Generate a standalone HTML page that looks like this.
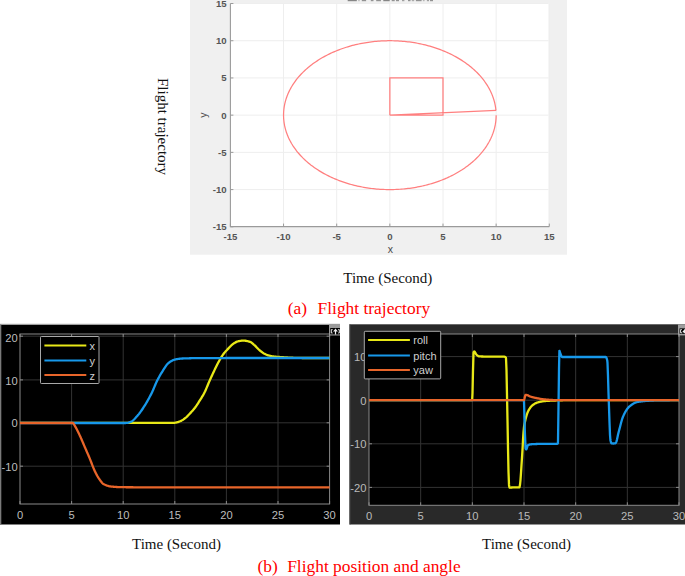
<!DOCTYPE html>
<html><head><meta charset="utf-8"><style>
html,body{margin:0;padding:0;background:#fff;width:685px;height:576px;overflow:hidden}
svg{display:block}
.sa{font-family:"Liberation Sans",sans-serif}
.se{font-family:"Liberation Serif",serif}
</style></head><body>
<svg width="685" height="576" viewBox="0 0 685 576">
<rect width="685" height="576" fill="#fff"/>
<rect x="190" y="0" width="377" height="254.7" fill="#f0f0f0"/>
<rect x="230.4" y="3.6" width="318.1" height="223.0" fill="#ffffff"/>
<line x1="283.55" y1="3.6" x2="283.55" y2="226.6" stroke="#eeeeee" stroke-width="1"/>
<line x1="336.70" y1="3.6" x2="336.70" y2="226.6" stroke="#eeeeee" stroke-width="1"/>
<line x1="389.85" y1="3.6" x2="389.85" y2="226.6" stroke="#eeeeee" stroke-width="1"/>
<line x1="443.00" y1="3.6" x2="443.00" y2="226.6" stroke="#eeeeee" stroke-width="1"/>
<line x1="496.15" y1="3.6" x2="496.15" y2="226.6" stroke="#eeeeee" stroke-width="1"/>
<line x1="549.30" y1="3.6" x2="549.30" y2="226.6" stroke="#eeeeee" stroke-width="1"/>
<line x1="230.4" y1="189.58" x2="548.5" y2="189.58" stroke="#eeeeee" stroke-width="1"/>
<line x1="230.4" y1="152.37" x2="548.5" y2="152.37" stroke="#eeeeee" stroke-width="1"/>
<line x1="230.4" y1="115.15" x2="548.5" y2="115.15" stroke="#eeeeee" stroke-width="1"/>
<line x1="230.4" y1="77.94" x2="548.5" y2="77.94" stroke="#eeeeee" stroke-width="1"/>
<line x1="230.4" y1="40.72" x2="548.5" y2="40.72" stroke="#eeeeee" stroke-width="1"/>
<line x1="230.4" y1="3.51" x2="548.5" y2="3.51" stroke="#eeeeee" stroke-width="1"/>
<polyline points="495.93,110.31 495.80,109.16 495.66,108.01 495.49,106.85 495.29,105.71 495.07,104.56 494.82,103.42 494.55,102.27 494.25,101.14 493.93,100.00 493.58,98.87 493.20,97.74 492.80,96.62 492.38,95.50 491.93,94.39 491.46,93.28 490.96,92.18 490.44,91.08 489.89,89.99 489.32,88.90 488.73,87.82 488.11,86.75 487.46,85.68 486.80,84.62 486.11,83.57 485.40,82.53 484.66,81.49 483.90,80.47 483.12,79.45 482.32,78.43 481.49,77.43 480.64,76.44 479.77,75.46 478.88,74.48 477.97,73.52 477.03,72.56 476.08,71.62 475.10,70.69 474.10,69.76 473.08,68.85 472.05,67.95 470.99,67.06 469.91,66.19 468.81,65.32 467.70,64.47 466.56,63.63 465.41,62.80 464.24,61.98 463.05,61.18 461.84,60.39 460.62,59.61 459.38,58.85 458.12,58.10 456.84,57.36 455.55,56.64 454.25,55.93 452.92,55.24 451.59,54.56 450.23,53.89 448.87,53.24 447.48,52.61 446.09,51.99 444.68,51.39 443.26,50.80 441.82,50.22 440.37,49.66 438.91,49.12 437.44,48.60 435.96,48.09 434.46,47.59 432.96,47.12 431.44,46.65 429.92,46.21 428.38,45.78 426.84,45.37 425.28,44.98 423.72,44.60 422.15,44.24 420.57,43.90 418.99,43.57 417.40,43.26 415.80,42.97 414.19,42.70 412.58,42.44 410.96,42.20 409.34,41.98 407.71,41.78 406.08,41.59 404.45,41.43 402.81,41.28 401.17,41.14 399.52,41.03 397.88,40.93 396.23,40.85 394.58,40.79 392.93,40.75 391.27,40.73 389.62,40.72 387.97,40.73 386.32,40.76 384.67,40.81 383.02,40.87 381.37,40.96 379.72,41.06 378.08,41.18 376.44,41.31 374.80,41.47 373.17,41.64 371.54,41.83 369.91,42.04 368.29,42.27 366.67,42.51 365.06,42.77 363.46,43.05 361.86,43.35 360.27,43.66 358.69,43.99 357.11,44.34 355.54,44.70 353.99,45.08 352.43,45.48 350.89,45.90 349.36,46.33 347.84,46.78 346.32,47.25 344.82,47.73 343.33,48.23 341.85,48.74 340.38,49.27 338.92,49.82 337.48,50.38 336.05,50.96 334.63,51.55 333.22,52.16 331.83,52.78 330.46,53.42 329.09,54.08 327.74,54.74 326.41,55.43 325.09,56.13 323.79,56.84 322.50,57.56 321.23,58.30 319.98,59.06 318.74,59.82 317.52,60.61 316.32,61.40 315.14,62.21 313.97,63.03 312.82,63.86 311.69,64.70 310.58,65.56 309.49,66.43 308.42,67.31 307.37,68.20 306.33,69.10 305.32,70.02 304.33,70.94 303.36,71.88 302.41,72.83 301.48,73.78 300.57,74.75 299.69,75.73 298.82,76.71 297.98,77.71 297.16,78.71 296.36,79.73 295.59,80.75 294.83,81.78 294.10,82.82 293.40,83.86 292.71,84.92 292.06,85.98 291.42,87.05 290.81,88.12 290.22,89.20 289.66,90.29 289.12,91.38 288.60,92.48 288.11,93.59 287.64,94.70 287.20,95.81 286.78,96.93 286.39,98.05 286.02,99.18 285.68,100.32 285.37,101.45 285.07,102.59 284.81,103.73 284.57,104.88 284.35,106.02 284.16,107.17 284.00,108.32 283.86,109.48 283.75,110.63 283.66,111.79 283.60,112.94 283.56,114.10 283.55,115.26 283.57,116.41 283.61,117.57 283.67,118.73 283.77,119.88 283.88,121.04 284.03,122.19 284.20,123.34 284.39,124.49 284.61,125.63 284.86,126.78 285.13,127.92 285.42,129.06 285.74,130.19 286.09,131.33 286.46,132.45 286.86,133.58 287.28,134.69 287.73,135.81 288.20,136.92 288.69,138.02 289.21,139.12 289.76,140.21 290.33,141.30 290.92,142.38 291.53,143.45 292.18,144.52 292.84,145.58 293.53,146.63 294.24,147.68 294.97,148.71 295.73,149.74 296.51,150.76 297.31,151.77 298.13,152.78 298.98,153.77 299.85,154.75 300.74,155.73 301.65,156.69 302.58,157.65 303.54,158.59 304.51,159.53 305.51,160.45 306.52,161.36 307.56,162.26 308.61,163.15 309.69,164.03 310.78,164.90 311.90,165.75 313.03,166.60 314.18,167.43 315.35,168.24 316.54,169.05 317.75,169.84 318.97,170.62 320.21,171.38 321.47,172.13 322.74,172.87 324.03,173.59 325.33,174.30 326.65,175.00 327.99,175.68 329.34,176.35 330.71,177.00 332.09,177.63 333.48,178.25 334.89,178.86 336.31,179.45 337.75,180.03 339.19,180.58 340.65,181.13 342.12,181.66 343.60,182.17 345.10,182.66 346.60,183.14 348.12,183.60 349.64,184.05 351.18,184.48 352.72,184.89 354.27,185.29 355.83,185.67 357.40,186.03 358.98,186.37 360.57,186.70 362.16,187.01 363.76,187.30 365.36,187.58 366.97,187.84 368.59,188.08 370.21,188.30 371.84,188.50 373.47,188.69 375.10,188.86 376.74,189.01 378.38,189.15 380.03,189.26 381.67,189.36 383.32,189.44 384.97,189.50 386.62,189.55 388.27,189.57 389.93,189.58 391.58,189.57 393.23,189.54 394.88,189.50 396.53,189.43 398.18,189.35 399.83,189.25 401.47,189.13 403.11,189.00 404.75,188.85 406.38,188.67 408.01,188.49 409.64,188.28 411.26,188.05 412.88,187.81 414.49,187.55 416.09,187.28 417.69,186.98 419.28,186.67 420.87,186.34 422.44,186.00 424.01,185.63 425.57,185.25 427.12,184.85 428.67,184.44 430.20,184.01 431.72,183.56 433.24,183.10 434.74,182.62 436.23,182.12 437.71,181.61 439.18,181.08 440.64,180.53 442.09,179.97 443.52,179.40 444.94,178.80 446.35,178.20 447.74,177.57 449.12,176.94 450.48,176.28 451.83,175.62 453.17,174.94 454.49,174.24 455.79,173.53 457.08,172.80 458.35,172.06 459.61,171.31 460.84,170.55 462.07,169.77 463.27,168.97 464.46,168.17 465.62,167.35 466.77,166.52 467.90,165.68 469.02,164.82 470.11,163.95 471.18,163.07 472.24,162.18 473.27,161.28 474.29,160.37 475.28,159.44 476.25,158.51 477.21,157.56 478.14,156.60 479.05,155.64 479.93,154.66 480.80,153.68 481.64,152.68 482.47,151.68 483.27,150.67 484.04,149.65 484.80,148.62 485.53,147.58 486.24,146.53 486.92,145.48 487.58,144.42 488.22,143.35 488.84,142.28 489.43,141.20 489.99,140.11 490.54,139.02 491.05,137.92 491.55,136.82 492.02,135.71 492.46,134.59 492.88,133.47 493.27,132.35 493.64,131.22 493.99,130.09 494.31,128.95 494.60,127.82 494.87,126.67 495.11,125.53 495.33,124.38 495.52,123.23 495.69,122.08 495.83,120.93 495.94,119.78 496.03,118.62 496.10,117.46 496.14,116.31 496.15,115.15" fill="none" stroke="#ff7f7f" stroke-width="1.25"/>
<polyline points="389.85,115.15 389.85,77.94 443.00,77.94 443.00,115.15 389.85,115.15 496.15,110.31" fill="none" stroke="#ff7f7f" stroke-width="1.25"/>
<path d="M230.4,3.6 V226.6 H549.30" fill="none" stroke="#9a9a9a" stroke-width="1.1"/>
<line x1="230.40" y1="226.6" x2="230.40" y2="223.6" stroke="#9a9a9a" stroke-width="1"/>
<line x1="230.4" y1="226.80" x2="233.4" y2="226.80" stroke="#9a9a9a" stroke-width="1"/>
<line x1="283.55" y1="226.6" x2="283.55" y2="223.6" stroke="#9a9a9a" stroke-width="1"/>
<line x1="230.4" y1="189.58" x2="233.4" y2="189.58" stroke="#9a9a9a" stroke-width="1"/>
<line x1="336.70" y1="226.6" x2="336.70" y2="223.6" stroke="#9a9a9a" stroke-width="1"/>
<line x1="230.4" y1="152.37" x2="233.4" y2="152.37" stroke="#9a9a9a" stroke-width="1"/>
<line x1="389.85" y1="226.6" x2="389.85" y2="223.6" stroke="#9a9a9a" stroke-width="1"/>
<line x1="230.4" y1="115.15" x2="233.4" y2="115.15" stroke="#9a9a9a" stroke-width="1"/>
<line x1="443.00" y1="226.6" x2="443.00" y2="223.6" stroke="#9a9a9a" stroke-width="1"/>
<line x1="230.4" y1="77.94" x2="233.4" y2="77.94" stroke="#9a9a9a" stroke-width="1"/>
<line x1="496.15" y1="226.6" x2="496.15" y2="223.6" stroke="#9a9a9a" stroke-width="1"/>
<line x1="230.4" y1="40.72" x2="233.4" y2="40.72" stroke="#9a9a9a" stroke-width="1"/>
<line x1="549.30" y1="226.6" x2="549.30" y2="223.6" stroke="#9a9a9a" stroke-width="1"/>
<line x1="230.4" y1="3.51" x2="233.4" y2="3.51" stroke="#9a9a9a" stroke-width="1"/>
<text x="230.40" y="239.6" text-anchor="middle" class="sa" font-size="9.6" font-weight="bold" fill="#555555">-15</text>
<text x="226.6" y="230.30" text-anchor="end" class="sa" font-size="9.6" font-weight="bold" fill="#555555">-15</text>
<text x="283.55" y="239.6" text-anchor="middle" class="sa" font-size="9.6" font-weight="bold" fill="#555555">-10</text>
<text x="226.6" y="193.08" text-anchor="end" class="sa" font-size="9.6" font-weight="bold" fill="#555555">-10</text>
<text x="336.70" y="239.6" text-anchor="middle" class="sa" font-size="9.6" font-weight="bold" fill="#555555">-5</text>
<text x="226.6" y="155.87" text-anchor="end" class="sa" font-size="9.6" font-weight="bold" fill="#555555">-5</text>
<text x="389.85" y="239.6" text-anchor="middle" class="sa" font-size="9.6" font-weight="bold" fill="#555555">0</text>
<text x="226.6" y="118.65" text-anchor="end" class="sa" font-size="9.6" font-weight="bold" fill="#555555">0</text>
<text x="443.00" y="239.6" text-anchor="middle" class="sa" font-size="9.6" font-weight="bold" fill="#555555">5</text>
<text x="226.6" y="81.44" text-anchor="end" class="sa" font-size="9.6" font-weight="bold" fill="#555555">5</text>
<text x="496.15" y="239.6" text-anchor="middle" class="sa" font-size="9.6" font-weight="bold" fill="#555555">10</text>
<text x="226.6" y="44.22" text-anchor="end" class="sa" font-size="9.6" font-weight="bold" fill="#555555">10</text>
<text x="549.30" y="239.6" text-anchor="middle" class="sa" font-size="9.6" font-weight="bold" fill="#555555">15</text>
<text x="226.6" y="7.01" text-anchor="end" class="sa" font-size="9.6" font-weight="bold" fill="#555555">15</text>
<text x="390.3" y="252.6" text-anchor="middle" class="sa" font-size="10.5" fill="#4a4a4a">x</text>
<text transform="translate(206.8,115.2) rotate(-90)" x="0" y="0" text-anchor="middle" class="sa" font-size="10.5" fill="#4a4a4a">y</text>
<rect x="347.7" y="0" width="9.1" height="1.2" fill="#666" opacity="0.77"/>
<rect x="358.1" y="0" width="1.7" height="1.2" fill="#666" opacity="0.34"/>
<rect x="361.8" y="0" width="4.3" height="1.2" fill="#666" opacity="0.68"/>
<rect x="370.8" y="0" width="2.7" height="1.2" fill="#666" opacity="0.68"/>
<rect x="376.2" y="0" width="4.7" height="1.2" fill="#666" opacity="0.68"/>
<rect x="383.3" y="0" width="6.4" height="1.2" fill="#666" opacity="0.77"/>
<rect x="391.7" y="0" width="3.0" height="1.2" fill="#666" opacity="0.68"/>
<rect x="396" y="0" width="3.0" height="1.2" fill="#666" opacity="0.68"/>
<rect x="402" y="0" width="2.4" height="1.2" fill="#666" opacity="0.59"/>
<rect x="408" y="0" width="2.5" height="1.2" fill="#666" opacity="0.68"/>
<rect x="411.8" y="0" width="2.4" height="1.2" fill="#666" opacity="0.51"/>
<rect x="415.9" y="0" width="5.7" height="1.2" fill="#666" opacity="0.68"/>
<rect x="422.9" y="0" width="1.7" height="1.2" fill="#666" opacity="0.42"/>
<rect x="426.9" y="0" width="2.1" height="1.2" fill="#666" opacity="0.59"/>
<rect x="430" y="0" width="3.0" height="1.2" fill="#666" opacity="0.68"/>
<rect x="0" y="324.5" width="340" height="200" fill="#000"/>
<rect x="0" y="323.8" width="340" height="1.2" fill="#a0a0a0"/>
<rect x="0" y="324.5" width="1.3" height="200" fill="#7a7a7a"/>
<line x1="71.60" y1="334" x2="71.60" y2="504" stroke="#333333" stroke-width="1"/>
<line x1="123.20" y1="334" x2="123.20" y2="504" stroke="#333333" stroke-width="1"/>
<line x1="174.80" y1="334" x2="174.80" y2="504" stroke="#333333" stroke-width="1"/>
<line x1="226.40" y1="334" x2="226.40" y2="504" stroke="#333333" stroke-width="1"/>
<line x1="278.00" y1="334" x2="278.00" y2="504" stroke="#333333" stroke-width="1"/>
<line x1="20" y1="336.20" x2="329.6" y2="336.20" stroke="#333333" stroke-width="1"/>
<line x1="20" y1="379.90" x2="329.6" y2="379.90" stroke="#333333" stroke-width="1"/>
<line x1="20" y1="422.80" x2="329.6" y2="422.80" stroke="#333333" stroke-width="1"/>
<line x1="20" y1="466.20" x2="329.6" y2="466.20" stroke="#333333" stroke-width="1"/>
<rect x="20" y="334" width="309.6" height="170" fill="none" stroke="#8a8a8a" stroke-width="1"/>
<line x1="20.00" y1="504" x2="20.00" y2="501" stroke="#8a8a8a"/>
<line x1="20.00" y1="334" x2="20.00" y2="337" stroke="#8a8a8a"/>
<line x1="71.60" y1="504" x2="71.60" y2="501" stroke="#8a8a8a"/>
<line x1="71.60" y1="334" x2="71.60" y2="337" stroke="#8a8a8a"/>
<line x1="123.20" y1="504" x2="123.20" y2="501" stroke="#8a8a8a"/>
<line x1="123.20" y1="334" x2="123.20" y2="337" stroke="#8a8a8a"/>
<line x1="174.80" y1="504" x2="174.80" y2="501" stroke="#8a8a8a"/>
<line x1="174.80" y1="334" x2="174.80" y2="337" stroke="#8a8a8a"/>
<line x1="226.40" y1="504" x2="226.40" y2="501" stroke="#8a8a8a"/>
<line x1="226.40" y1="334" x2="226.40" y2="337" stroke="#8a8a8a"/>
<line x1="278.00" y1="504" x2="278.00" y2="501" stroke="#8a8a8a"/>
<line x1="278.00" y1="334" x2="278.00" y2="337" stroke="#8a8a8a"/>
<line x1="329.60" y1="504" x2="329.60" y2="501" stroke="#8a8a8a"/>
<line x1="329.60" y1="334" x2="329.60" y2="337" stroke="#8a8a8a"/>
<line x1="20" y1="336.20" x2="23" y2="336.20" stroke="#8a8a8a"/>
<line x1="329.6" y1="336.20" x2="326.6" y2="336.20" stroke="#8a8a8a"/>
<line x1="20" y1="379.90" x2="23" y2="379.90" stroke="#8a8a8a"/>
<line x1="329.6" y1="379.90" x2="326.6" y2="379.90" stroke="#8a8a8a"/>
<line x1="20" y1="422.80" x2="23" y2="422.80" stroke="#8a8a8a"/>
<line x1="329.6" y1="422.80" x2="326.6" y2="422.80" stroke="#8a8a8a"/>
<line x1="20" y1="466.20" x2="23" y2="466.20" stroke="#8a8a8a"/>
<line x1="329.6" y1="466.20" x2="326.6" y2="466.20" stroke="#8a8a8a"/>
<polyline points="20.00,422.80 20.50,422.80 21.00,422.80 21.50,422.80 22.00,422.80 22.50,422.80 23.00,422.80 23.50,422.80 24.00,422.80 24.50,422.80 25.00,422.80 25.50,422.80 26.00,422.80 26.50,422.80 27.00,422.80 27.50,422.80 28.00,422.80 28.50,422.80 29.00,422.80 29.50,422.80 30.00,422.80 30.50,422.80 31.00,422.80 31.50,422.80 32.00,422.80 32.50,422.80 33.00,422.80 33.50,422.80 34.00,422.80 34.50,422.80 35.00,422.80 35.50,422.80 36.00,422.80 36.50,422.80 37.00,422.80 37.50,422.80 38.00,422.80 38.50,422.80 39.00,422.80 39.50,422.80 40.00,422.80 40.50,422.80 41.00,422.80 41.50,422.80 42.00,422.80 42.50,422.80 43.00,422.80 43.50,422.80 44.00,422.80 44.50,422.80 45.00,422.80 45.50,422.80 46.00,422.80 46.50,422.80 47.00,422.80 47.50,422.80 48.00,422.80 48.50,422.80 49.00,422.80 49.50,422.80 50.00,422.80 50.50,422.80 51.00,422.80 51.50,422.80 52.00,422.80 52.50,422.80 53.00,422.80 53.50,422.80 54.00,422.80 54.50,422.80 55.00,422.80 55.50,422.80 56.00,422.80 56.50,422.80 57.00,422.80 57.50,422.80 58.00,422.80 58.50,422.80 59.00,422.80 59.50,422.80 60.00,422.80 60.50,422.80 61.00,422.80 61.50,422.80 62.00,422.80 62.50,422.80 63.00,422.80 63.50,422.80 64.00,422.80 64.50,422.80 65.00,422.80 65.50,422.80 66.00,422.80 66.50,422.80 67.00,422.80 67.50,422.80 68.00,422.80 68.50,422.80 69.00,422.80 69.50,422.80 70.00,422.80 70.50,422.80 71.00,422.80 71.50,422.80 72.00,422.80 72.50,422.80 73.00,422.80 73.50,422.80 74.00,422.80 74.50,422.80 75.00,422.80 75.50,422.80 76.00,422.80 76.50,422.80 77.00,422.80 77.50,422.80 78.00,422.80 78.50,422.80 79.00,422.80 79.50,422.80 80.00,422.80 80.50,422.80 81.00,422.80 81.50,422.80 82.00,422.80 82.50,422.80 83.00,422.80 83.50,422.80 84.00,422.80 84.50,422.80 85.00,422.80 85.50,422.80 86.00,422.80 86.50,422.80 87.00,422.80 87.50,422.80 88.00,422.80 88.50,422.80 89.00,422.80 89.50,422.80 90.00,422.80 90.50,422.80 91.00,422.80 91.50,422.80 92.00,422.80 92.50,422.80 93.00,422.80 93.50,422.80 94.00,422.80 94.50,422.80 95.00,422.80 95.50,422.80 96.00,422.80 96.50,422.80 97.00,422.80 97.50,422.80 98.00,422.80 98.50,422.80 99.00,422.80 99.50,422.80 100.00,422.80 100.50,422.80 101.00,422.80 101.50,422.80 102.00,422.80 102.50,422.80 103.00,422.80 103.50,422.80 104.00,422.80 104.50,422.80 105.00,422.80 105.50,422.80 106.00,422.80 106.50,422.80 107.00,422.80 107.50,422.80 108.00,422.80 108.50,422.80 109.00,422.80 109.50,422.80 110.00,422.80 110.50,422.80 111.00,422.80 111.50,422.80 112.00,422.80 112.50,422.80 113.00,422.80 113.50,422.80 114.00,422.80 114.50,422.80 115.00,422.80 115.50,422.80 116.00,422.80 116.50,422.80 117.00,422.80 117.50,422.80 118.00,422.80 118.50,422.80 119.00,422.80 119.50,422.80 120.00,422.80 120.50,422.80 121.00,422.80 121.50,422.80 122.00,422.80 122.50,422.80 123.00,422.80 123.50,422.80 124.00,422.80 124.50,422.80 125.00,422.80 125.50,422.80 126.00,422.80 126.50,422.80 127.00,422.80 127.50,422.80 128.00,422.80 128.50,422.80 129.00,422.80 129.50,422.80 130.00,422.80 130.50,422.80 131.00,422.80 131.50,422.80 132.00,422.80 132.50,422.80 133.00,422.80 133.50,422.80 134.00,422.80 134.50,422.80 135.00,422.80 135.50,422.80 136.00,422.80 136.50,422.80 137.00,422.80 137.50,422.80 138.00,422.80 138.50,422.80 139.00,422.80 139.50,422.80 140.00,422.80 140.50,422.80 141.00,422.80 141.50,422.80 142.00,422.80 142.50,422.80 143.00,422.80 143.50,422.80 144.00,422.80 144.50,422.80 145.00,422.80 145.50,422.80 146.00,422.80 146.50,422.80 147.00,422.80 147.50,422.80 148.00,422.80 148.50,422.80 149.00,422.80 149.50,422.80 150.00,422.80 150.50,422.80 151.00,422.80 151.50,422.80 152.00,422.80 152.50,422.80 153.00,422.80 153.50,422.80 154.00,422.80 154.50,422.80 155.00,422.80 155.50,422.80 156.00,422.80 156.50,422.80 157.00,422.80 157.50,422.80 158.00,422.80 158.50,422.80 159.00,422.80 159.50,422.80 160.00,422.80 160.50,422.80 161.00,422.80 161.50,422.80 162.00,422.80 162.50,422.80 163.00,422.80 163.50,422.80 164.00,422.80 164.50,422.80 165.00,422.80 165.50,422.80 166.00,422.80 166.50,422.80 167.00,422.80 167.50,422.80 168.00,422.80 168.50,422.80 169.00,422.80 169.50,422.80 170.00,422.80 170.50,422.80 171.00,422.80 171.50,422.80 172.00,422.80 172.50,422.80 173.00,422.80 173.50,422.80 174.00,422.80 174.50,422.78 175.00,422.72 175.50,422.64 176.00,422.55 176.25,422.50 176.50,422.45 177.00,422.34 177.50,422.20 178.00,422.05 178.50,421.88 179.00,421.70 179.50,421.50 180.00,421.30 180.50,421.08 180.90,420.90 181.00,420.85 181.50,420.61 182.00,420.34 182.50,420.04 183.00,419.72 183.50,419.38 184.00,419.02 184.50,418.65 185.00,418.27 185.50,417.88 185.60,417.80 186.00,417.47 186.50,417.03 187.00,416.56 187.50,416.07 188.00,415.56 188.50,415.03 189.00,414.50 189.50,413.96 190.00,413.42 190.30,413.10 190.50,412.89 191.00,412.35 191.50,411.81 192.00,411.26 192.50,410.71 193.00,410.14 193.50,409.56 194.00,408.96 194.50,408.34 195.00,407.70 195.50,407.03 196.00,406.33 196.50,405.60 197.00,404.85 197.50,404.08 198.00,403.30 198.50,402.51 199.00,401.71 199.50,400.92 199.70,400.60 200.00,400.13 200.50,399.35 201.00,398.57 201.50,397.78 202.00,396.99 202.50,396.17 203.00,395.34 203.50,394.47 204.00,393.56 204.40,392.80 204.50,392.60 205.00,391.58 205.50,390.48 206.00,389.33 206.50,388.14 207.00,386.93 207.50,385.70 208.00,384.49 208.50,383.29 209.00,382.13 209.10,381.90 209.50,381.00 210.00,379.88 210.50,378.76 211.00,377.65 211.50,376.55 212.00,375.45 212.50,374.37 213.00,373.29 213.50,372.23 213.75,371.70 214.00,371.17 214.50,370.12 215.00,369.07 215.50,368.02 216.00,366.99 216.50,365.97 217.00,364.97 217.50,363.99 218.00,363.04 218.40,362.30 218.50,362.12 219.00,361.21 219.50,360.31 220.00,359.42 220.50,358.55 221.00,357.71 221.50,356.89 222.00,356.10 222.50,355.35 223.00,354.64 223.10,354.50 223.50,353.97 224.00,353.33 224.50,352.72 225.00,352.13 225.50,351.56 226.00,351.01 226.50,350.47 227.00,349.94 227.50,349.42 227.80,349.10 228.00,348.89 228.50,348.35 229.00,347.81 229.50,347.27 230.00,346.74 230.50,346.21 231.00,345.70 231.50,345.22 232.00,344.76 232.50,344.33 233.00,343.94 233.50,343.60 234.00,343.28 234.50,342.97 235.00,342.67 235.50,342.38 236.00,342.12 236.50,341.88 237.00,341.67 237.50,341.49 238.00,341.35 238.20,341.30 238.50,341.24 239.00,341.14 239.50,341.04 240.00,340.95 240.50,340.86 241.00,340.79 241.50,340.72 242.00,340.67 242.50,340.63 243.00,340.61 243.50,340.60 244.00,340.61 244.50,340.64 245.00,340.68 245.50,340.75 246.00,340.82 246.50,340.91 247.00,341.02 247.50,341.13 248.00,341.26 248.50,341.39 249.00,341.53 249.50,341.68 249.90,341.80 250.00,341.83 250.50,342.04 251.00,342.32 251.50,342.65 252.00,343.03 252.50,343.44 253.00,343.87 253.50,344.32 254.00,344.77 254.50,345.20 255.00,345.65 255.50,346.13 256.00,346.64 256.50,347.17 257.00,347.71 257.50,348.24 258.00,348.76 258.50,349.26 259.00,349.73 259.20,349.90 259.50,350.16 260.00,350.58 260.50,350.99 261.00,351.39 261.50,351.79 262.00,352.16 262.50,352.52 263.00,352.85 263.50,353.17 263.90,353.40 264.00,353.46 264.50,353.73 265.00,354.00 265.50,354.26 266.00,354.50 266.50,354.73 267.00,354.95 267.50,355.14 268.00,355.32 268.50,355.47 268.60,355.50 269.00,355.61 269.50,355.73 270.00,355.85 270.50,355.96 271.00,356.07 271.50,356.17 272.00,356.26 272.50,356.34 273.00,356.42 273.50,356.49 274.00,356.55 274.40,356.60 274.50,356.61 275.00,356.66 275.50,356.71 276.00,356.76 276.50,356.80 277.00,356.84 277.50,356.88 278.00,356.91 278.50,356.95 279.00,356.98 279.50,357.01 280.00,357.04 280.50,357.07 281.00,357.10 281.50,357.13 282.00,357.16 282.50,357.19 282.60,357.20 283.00,357.22 283.50,357.26 284.00,357.29 284.50,357.32 285.00,357.35 285.50,357.38 286.00,357.41 286.50,357.44 287.00,357.47 287.50,357.50 288.00,357.53 288.50,357.55 289.00,357.58 289.50,357.61 290.00,357.63 290.50,357.66 291.00,357.68 291.50,357.70 292.00,357.72 292.50,357.74 293.00,357.76 293.50,357.78 294.00,357.79 294.25,357.80 294.50,357.81 295.00,357.82 295.50,357.83 296.00,357.85 296.50,357.86 297.00,357.87 297.50,357.89 298.00,357.90 298.50,357.91 299.00,357.92 299.50,357.93 300.00,357.94 300.50,357.95 301.00,357.96 301.50,357.97 302.00,357.98 302.50,357.98 303.00,357.99 303.50,357.99 304.00,358.00 304.50,358.00 305.00,358.00 305.50,358.00 306.00,358.00 306.50,358.00 307.00,358.00 307.50,358.00 308.00,358.00 308.50,358.00 309.00,358.00 309.50,358.00 310.00,358.00 310.50,358.00 311.00,358.00 311.50,358.00 312.00,358.00 312.50,358.00 313.00,358.00 313.50,358.00 314.00,358.00 314.50,358.00 315.00,358.00 315.50,358.00 316.00,358.00 316.50,358.00 317.00,358.00 317.50,358.00 318.00,358.00 318.50,358.00 319.00,358.00 319.50,358.00 320.00,358.00 320.50,358.00 321.00,358.00 321.50,358.00 322.00,358.00 322.50,358.00 323.00,358.00 323.50,358.00 324.00,358.00 324.50,358.00 325.00,358.00 325.50,358.00 326.00,358.00 326.50,358.00 327.00,358.00 327.50,358.00 328.00,358.00 328.50,358.00 329.00,358.00 329.50,358.00 329.60,358.00" fill="none" stroke="#e8e817" stroke-width="2.3" stroke-linejoin="round"/>
<polyline points="20.00,423.00 20.50,423.00 21.00,423.00 21.50,423.00 22.00,423.00 22.50,423.00 23.00,423.00 23.50,423.00 24.00,423.00 24.50,423.00 25.00,423.00 25.50,423.00 26.00,423.00 26.50,423.00 27.00,423.00 27.50,423.00 28.00,423.00 28.50,423.00 29.00,423.00 29.50,423.00 30.00,423.00 30.50,423.00 31.00,423.00 31.50,423.00 32.00,423.00 32.50,423.00 33.00,423.00 33.50,423.00 34.00,423.00 34.50,423.00 35.00,423.00 35.50,423.00 36.00,423.00 36.50,423.00 37.00,423.00 37.50,423.00 38.00,423.00 38.50,423.00 39.00,423.00 39.50,423.00 40.00,423.00 40.50,423.00 41.00,423.00 41.50,423.00 42.00,423.00 42.50,423.00 43.00,423.00 43.50,423.00 44.00,423.00 44.50,423.00 45.00,423.00 45.50,423.00 46.00,423.00 46.50,423.00 47.00,423.00 47.50,423.00 48.00,423.00 48.50,423.00 49.00,423.00 49.50,423.00 50.00,423.00 50.50,423.00 51.00,423.00 51.50,423.00 52.00,423.00 52.50,423.00 53.00,423.00 53.50,423.00 54.00,423.00 54.50,423.00 55.00,423.00 55.50,423.00 56.00,423.00 56.50,423.00 57.00,423.00 57.50,423.00 58.00,423.00 58.50,423.00 59.00,423.00 59.50,423.00 60.00,423.00 60.50,423.00 61.00,423.00 61.50,423.00 62.00,423.00 62.50,423.00 63.00,423.00 63.50,423.00 64.00,423.00 64.50,423.00 65.00,423.00 65.50,423.00 66.00,423.00 66.50,423.00 67.00,423.00 67.50,423.00 68.00,423.00 68.50,423.00 69.00,423.00 69.50,423.00 70.00,423.00 70.50,423.00 71.00,423.00 71.50,423.00 72.00,423.00 72.50,423.00 73.00,423.00 73.50,423.00 74.00,423.00 74.50,423.00 75.00,423.00 75.50,423.00 76.00,423.00 76.50,423.00 77.00,423.00 77.50,423.00 78.00,423.00 78.50,423.00 79.00,423.00 79.50,423.00 80.00,423.00 80.50,423.00 81.00,423.00 81.50,423.00 82.00,423.00 82.50,423.00 83.00,423.00 83.50,423.00 84.00,423.00 84.50,423.00 85.00,423.00 85.50,423.00 86.00,423.00 86.50,423.00 87.00,423.00 87.50,423.00 88.00,423.00 88.50,423.00 89.00,423.00 89.50,423.00 90.00,423.00 90.50,423.00 91.00,423.00 91.50,423.00 92.00,423.00 92.50,423.00 93.00,423.00 93.50,423.00 94.00,423.00 94.50,423.00 95.00,423.00 95.50,423.00 96.00,423.00 96.50,423.00 97.00,423.00 97.50,423.00 98.00,423.00 98.50,423.00 99.00,423.00 99.50,423.00 100.00,423.00 100.50,423.00 101.00,423.00 101.50,423.00 102.00,423.00 102.50,423.00 103.00,423.00 103.50,423.00 104.00,423.00 104.50,423.00 105.00,423.00 105.50,423.00 106.00,423.00 106.50,423.00 107.00,423.00 107.50,423.00 108.00,423.00 108.50,423.00 109.00,423.00 109.50,423.00 110.00,423.00 110.50,423.00 111.00,423.00 111.50,423.00 112.00,423.00 112.50,423.00 113.00,423.00 113.50,423.00 114.00,423.00 114.50,423.00 115.00,423.00 115.50,423.00 116.00,423.00 116.50,423.00 117.00,423.00 117.50,423.00 118.00,423.00 118.50,423.00 119.00,423.00 119.50,423.00 120.00,423.00 120.50,423.00 121.00,423.00 121.50,423.00 122.00,423.00 122.50,423.00 123.00,423.00 123.50,423.00 124.00,423.00 124.50,423.00 125.00,423.00 125.30,423.00 125.50,423.00 126.00,422.97 126.50,422.92 127.00,422.85 127.50,422.76 128.00,422.65 128.50,422.52 129.00,422.38 129.50,422.23 130.00,422.07 130.50,421.90 130.80,421.80 131.00,421.73 131.50,421.49 132.00,421.20 132.50,420.85 133.00,420.45 133.50,420.01 134.00,419.53 134.50,419.02 135.00,418.48 135.50,417.93 136.00,417.36 136.50,416.79 137.00,416.21 137.50,415.64 137.80,415.30 138.00,415.07 138.50,414.49 139.00,413.88 139.50,413.24 140.00,412.58 140.50,411.90 141.00,411.20 141.50,410.49 142.00,409.75 142.50,409.01 143.00,408.25 143.50,407.48 144.00,406.70 144.50,405.92 144.70,405.60 145.00,405.12 145.50,404.32 146.00,403.49 146.50,402.65 147.00,401.80 147.50,400.93 148.00,400.04 148.50,399.13 149.00,398.22 149.50,397.28 150.00,396.33 150.50,395.37 151.00,394.39 151.50,393.40 151.70,393.00 152.00,392.38 152.50,391.31 153.00,390.19 153.50,389.03 154.00,387.85 154.50,386.65 155.00,385.46 155.50,384.29 156.00,383.15 156.50,382.05 157.00,381.00 157.20,380.60 157.50,380.01 158.00,379.05 158.50,378.11 159.00,377.19 159.50,376.28 160.00,375.40 160.50,374.54 161.00,373.69 161.50,372.87 162.00,372.06 162.50,371.27 162.80,370.80 163.00,370.49 163.50,369.70 164.00,368.91 164.50,368.11 165.00,367.33 165.50,366.57 166.00,365.84 166.50,365.16 167.00,364.52 167.50,363.95 168.00,363.46 168.30,363.20 168.50,363.04 169.00,362.65 169.50,362.27 170.00,361.91 170.50,361.56 171.00,361.24 171.50,360.94 172.00,360.66 172.50,360.40 173.00,360.17 173.50,359.97 174.00,359.79 174.50,359.65 174.70,359.60 175.00,359.53 175.50,359.42 176.00,359.32 176.50,359.22 177.00,359.13 177.50,359.04 178.00,358.96 178.50,358.88 179.00,358.81 179.50,358.75 180.00,358.69 180.50,358.64 181.00,358.59 181.50,358.56 182.00,358.52 182.50,358.50 183.00,358.48 183.50,358.46 184.00,358.44 184.50,358.42 185.00,358.40 185.50,358.39 186.00,358.37 186.50,358.35 187.00,358.34 187.50,358.32 188.00,358.31 188.50,358.29 189.00,358.28 189.50,358.27 190.00,358.26 190.50,358.24 191.00,358.23 191.50,358.22 192.00,358.21 192.50,358.20 193.00,358.19 193.50,358.18 194.00,358.17 194.50,358.17 195.00,358.16 195.50,358.15 196.00,358.14 196.50,358.14 197.00,358.13 197.50,358.13 198.00,358.12 198.50,358.12 199.00,358.11 199.50,358.11 200.00,358.11 200.50,358.10 201.00,358.10 201.25,358.10 201.50,358.10 202.00,358.10 202.50,358.09 203.00,358.09 203.50,358.09 204.00,358.09 204.50,358.09 205.00,358.08 205.50,358.08 206.00,358.08 206.50,358.08 207.00,358.08 207.50,358.08 208.00,358.07 208.50,358.07 209.00,358.07 209.50,358.07 210.00,358.07 210.50,358.06 211.00,358.06 211.50,358.06 212.00,358.06 212.50,358.06 213.00,358.06 213.50,358.05 214.00,358.05 214.50,358.05 215.00,358.05 215.50,358.05 216.00,358.05 216.50,358.05 217.00,358.04 217.50,358.04 218.00,358.04 218.50,358.04 219.00,358.04 219.50,358.04 220.00,358.04 220.50,358.04 221.00,358.03 221.50,358.03 222.00,358.03 222.50,358.03 223.00,358.03 223.50,358.03 224.00,358.03 224.50,358.03 225.00,358.03 225.50,358.02 226.00,358.02 226.50,358.02 227.00,358.02 227.50,358.02 228.00,358.02 228.50,358.02 229.00,358.02 229.50,358.02 230.00,358.02 230.50,358.02 231.00,358.01 231.50,358.01 232.00,358.01 232.50,358.01 233.00,358.01 233.50,358.01 234.00,358.01 234.50,358.01 235.00,358.01 235.50,358.01 236.00,358.01 236.50,358.01 237.00,358.01 237.50,358.01 238.00,358.01 238.50,358.01 239.00,358.00 239.50,358.00 240.00,358.00 240.50,358.00 241.00,358.00 241.50,358.00 242.00,358.00 242.50,358.00 243.00,358.00 243.50,358.00 244.00,358.00 244.50,358.00 245.00,358.00 245.50,358.00 246.00,358.00 246.50,358.00 247.00,358.00 247.50,358.00 248.00,358.00 248.50,358.00 249.00,358.00 249.50,358.00 250.00,358.00 250.50,358.00 251.00,358.00 251.50,358.00 252.00,358.00 252.50,358.00 253.00,358.00 253.50,358.00 254.00,358.00 254.50,358.00 255.00,358.00 255.50,358.00 256.00,358.00 256.50,358.00 257.00,358.00 257.50,358.00 258.00,358.00 258.50,358.00 259.00,358.00 259.50,358.00 260.00,358.00 260.50,358.00 261.00,358.00 261.50,358.00 262.00,358.00 262.50,358.00 263.00,358.00 263.50,358.00 264.00,358.00 264.50,358.00 265.00,358.00 265.50,358.00 266.00,358.00 266.50,358.00 267.00,358.00 267.50,358.00 268.00,358.00 268.50,358.00 269.00,358.00 269.50,358.00 270.00,358.00 270.50,358.00 271.00,358.00 271.50,358.00 272.00,358.00 272.50,358.00 273.00,358.00 273.50,358.00 274.00,358.00 274.50,358.00 275.00,358.00 275.50,358.00 276.00,358.00 276.50,358.00 277.00,358.00 277.50,358.00 278.00,358.00 278.50,358.00 279.00,358.00 279.50,358.00 280.00,358.00 280.50,358.00 281.00,358.00 281.50,358.00 282.00,358.00 282.50,358.00 283.00,358.00 283.50,358.00 284.00,358.00 284.50,358.00 285.00,358.00 285.50,358.00 286.00,358.00 286.50,358.00 287.00,358.00 287.50,358.00 288.00,358.00 288.50,358.00 289.00,358.00 289.50,358.00 290.00,358.00 290.50,358.00 291.00,358.00 291.50,358.00 292.00,358.00 292.50,358.00 293.00,358.00 293.50,358.00 294.00,358.00 294.50,358.00 295.00,358.00 295.50,358.00 296.00,358.00 296.50,358.00 297.00,358.00 297.50,358.00 298.00,358.00 298.50,358.00 299.00,358.00 299.50,358.00 300.00,358.00 300.50,358.00 301.00,358.00 301.50,358.00 302.00,358.00 302.50,358.00 303.00,358.00 303.50,358.00 304.00,358.00 304.50,358.00 305.00,358.00 305.50,358.00 306.00,358.00 306.50,358.00 307.00,358.00 307.50,358.00 308.00,358.00 308.50,358.00 309.00,358.00 309.50,358.00 310.00,358.00 310.50,358.00 311.00,358.00 311.50,358.00 312.00,358.00 312.50,358.00 313.00,358.00 313.50,358.00 314.00,358.00 314.50,358.00 315.00,358.00 315.50,358.00 316.00,358.00 316.50,358.00 317.00,358.00 317.50,358.00 318.00,358.00 318.50,358.00 319.00,358.00 319.50,358.00 320.00,358.00 320.50,358.00 321.00,358.00 321.50,358.00 322.00,358.00 322.50,358.00 323.00,358.00 323.50,358.00 324.00,358.00 324.50,358.00 325.00,358.00 325.50,358.00 326.00,358.00 326.50,358.00 327.00,358.00 327.50,358.00 328.00,358.00 328.50,358.00 329.00,358.00 329.50,358.00 329.60,358.00" fill="none" stroke="#1798ea" stroke-width="2.3" stroke-linejoin="round"/>
<polyline points="20.00,423.00 20.50,423.00 21.00,423.00 21.50,423.00 22.00,423.00 22.50,423.00 23.00,423.00 23.50,423.00 24.00,423.00 24.50,423.00 25.00,423.00 25.50,423.00 26.00,423.00 26.50,423.00 27.00,423.00 27.50,423.00 28.00,423.00 28.50,423.00 29.00,423.00 29.50,423.00 30.00,423.00 30.50,423.00 31.00,423.00 31.50,423.00 32.00,423.00 32.50,423.00 33.00,423.00 33.50,423.00 34.00,423.00 34.50,423.00 35.00,423.00 35.50,423.00 36.00,423.00 36.50,423.00 37.00,423.00 37.50,423.00 38.00,423.00 38.50,423.00 39.00,423.00 39.50,423.00 40.00,423.00 40.50,423.00 41.00,423.00 41.50,423.00 42.00,423.00 42.50,423.00 43.00,423.00 43.50,423.00 44.00,423.00 44.50,423.00 45.00,423.00 45.50,423.00 46.00,423.00 46.50,423.00 47.00,423.00 47.50,423.00 48.00,423.00 48.50,423.00 49.00,423.00 49.50,423.00 50.00,423.00 50.50,423.00 51.00,423.00 51.50,423.00 52.00,423.00 52.50,423.00 53.00,423.00 53.50,423.00 54.00,423.00 54.50,423.00 55.00,423.00 55.50,423.00 56.00,423.00 56.50,423.00 57.00,423.00 57.50,423.00 58.00,423.00 58.50,423.00 59.00,423.00 59.50,423.00 60.00,423.00 60.50,423.00 61.00,423.00 61.50,423.00 62.00,423.00 62.50,423.00 63.00,423.00 63.50,423.00 64.00,423.00 64.50,423.00 65.00,423.00 65.50,423.00 66.00,423.00 66.50,423.00 67.00,423.00 67.50,423.00 68.00,423.00 68.50,423.00 69.00,423.00 69.50,423.00 70.00,423.00 70.50,423.00 71.00,423.00 71.50,423.00 72.00,423.00 72.50,423.00 73.00,423.18 73.50,423.68 74.00,424.40 74.50,425.26 75.00,426.17 75.50,427.04 75.60,427.20 76.00,427.86 76.50,428.74 77.00,429.68 77.50,430.66 78.00,431.68 78.50,432.73 79.00,433.79 79.50,434.87 80.00,435.95 80.30,436.60 80.50,437.03 81.00,438.14 81.50,439.27 82.00,440.42 82.50,441.60 83.00,442.78 83.50,443.97 84.00,445.15 84.50,446.33 85.00,447.50 85.50,448.66 86.00,449.80 86.50,450.95 87.00,452.09 87.50,453.24 88.00,454.39 88.50,455.56 89.00,456.73 89.50,457.92 89.70,458.40 90.00,459.13 90.50,460.40 91.00,461.70 91.50,463.02 92.00,464.35 92.50,465.65 93.00,466.93 93.50,468.16 94.00,469.33 94.40,470.20 94.50,470.41 95.00,471.45 95.50,472.47 96.00,473.45 96.50,474.41 97.00,475.33 97.50,476.22 98.00,477.06 98.50,477.86 99.00,478.61 99.10,478.75 99.50,479.32 100.00,480.05 100.50,480.76 101.00,481.45 101.50,482.10 102.00,482.70 102.50,483.24 103.00,483.70 103.50,484.06 103.75,484.20 104.00,484.33 104.50,484.57 105.00,484.80 105.50,485.01 106.00,485.22 106.50,485.41 107.00,485.59 107.50,485.75 108.00,485.90 108.50,486.04 109.00,486.17 109.50,486.28 110.00,486.38 110.50,486.46 111.00,486.53 111.50,486.59 111.60,486.60 112.00,486.64 112.50,486.68 113.00,486.73 113.50,486.77 114.00,486.81 114.50,486.85 115.00,486.89 115.50,486.92 116.00,486.96 116.50,486.99 117.00,487.02 117.50,487.05 118.00,487.07 118.50,487.09 119.00,487.12 119.50,487.13 120.00,487.15 120.50,487.17 121.00,487.18 121.50,487.19 122.00,487.19 122.50,487.20 123.00,487.20 123.50,487.21 124.00,487.21 124.50,487.22 125.00,487.22 125.50,487.22 126.00,487.23 126.50,487.23 127.00,487.23 127.50,487.24 128.00,487.24 128.50,487.24 129.00,487.25 129.50,487.25 130.00,487.25 130.50,487.26 131.00,487.26 131.50,487.26 132.00,487.27 132.50,487.27 133.00,487.27 133.50,487.28 134.00,487.28 134.50,487.28 135.00,487.29 135.50,487.29 136.00,487.29 136.50,487.30 137.00,487.30 137.50,487.30 138.00,487.30 138.50,487.31 139.00,487.31 139.50,487.31 140.00,487.31 140.50,487.32 141.00,487.32 141.50,487.32 142.00,487.33 142.50,487.33 143.00,487.33 143.50,487.33 144.00,487.34 144.50,487.34 145.00,487.34 145.50,487.34 146.00,487.34 146.50,487.35 147.00,487.35 147.50,487.35 148.00,487.35 148.50,487.36 149.00,487.36 149.50,487.36 150.00,487.36 150.50,487.36 151.00,487.37 151.50,487.37 152.00,487.37 152.50,487.37 153.00,487.37 153.50,487.38 154.00,487.38 154.50,487.38 155.00,487.38 155.50,487.38 156.00,487.38 156.50,487.39 157.00,487.39 157.50,487.39 158.00,487.39 158.50,487.39 159.00,487.39 159.50,487.40 160.00,487.40 160.50,487.40 161.00,487.40 161.50,487.40 162.00,487.40 162.50,487.40 163.00,487.41 163.50,487.41 164.00,487.41 164.50,487.41 165.00,487.41 165.50,487.41 166.00,487.41 166.50,487.41 167.00,487.42 167.50,487.42 168.00,487.42 168.50,487.42 169.00,487.42 169.50,487.42 170.00,487.42 170.50,487.42 171.00,487.42 171.50,487.43 172.00,487.43 172.50,487.43 173.00,487.43 173.50,487.43 174.00,487.43 174.50,487.43 175.00,487.43 175.50,487.43 176.00,487.43 176.50,487.43 177.00,487.43 177.50,487.44 178.00,487.44 178.50,487.44 179.00,487.44 179.50,487.44 180.00,487.44 180.50,487.44 181.00,487.44 181.50,487.44 182.00,487.44 182.50,487.44 183.00,487.44 183.50,487.44 184.00,487.44 184.50,487.44 185.00,487.44 185.50,487.44 186.00,487.44 186.50,487.45 187.00,487.45 187.50,487.45 188.00,487.45 188.50,487.45 189.00,487.45 189.50,487.45 190.00,487.45 190.50,487.45 191.00,487.45 191.50,487.45 192.00,487.45 192.50,487.45 193.00,487.45 193.50,487.45 194.00,487.45 194.50,487.45 195.00,487.45 195.50,487.45 196.00,487.45 196.50,487.45 197.00,487.45 197.50,487.45 198.00,487.45 198.50,487.45 199.00,487.45 199.50,487.45 200.00,487.45 200.50,487.45 201.00,487.45 201.50,487.45 202.00,487.45 202.50,487.45 203.00,487.45 203.50,487.45 204.00,487.45 204.50,487.45 205.00,487.45 205.50,487.45 206.00,487.45 206.50,487.45 207.00,487.45 207.50,487.45 208.00,487.45 208.50,487.45 209.00,487.45 209.50,487.45 210.00,487.45 210.50,487.45 211.00,487.45 211.50,487.45 212.00,487.45 212.50,487.45 213.00,487.45 213.50,487.45 214.00,487.45 214.50,487.45 215.00,487.45 215.50,487.45 216.00,487.45 216.50,487.45 217.00,487.45 217.50,487.45 218.00,487.45 218.50,487.45 219.00,487.45 219.50,487.45 220.00,487.45 220.50,487.45 221.00,487.45 221.50,487.45 222.00,487.45 222.50,487.45 223.00,487.45 223.50,487.45 224.00,487.45 224.50,487.45 225.00,487.45 225.50,487.45 226.00,487.45 226.50,487.45 227.00,487.45 227.50,487.45 228.00,487.45 228.50,487.45 229.00,487.45 229.50,487.45 230.00,487.45 230.50,487.45 231.00,487.45 231.50,487.45 232.00,487.45 232.50,487.45 233.00,487.45 233.50,487.45 234.00,487.45 234.50,487.45 235.00,487.45 235.50,487.45 236.00,487.45 236.50,487.45 237.00,487.45 237.50,487.45 238.00,487.45 238.50,487.45 239.00,487.45 239.50,487.45 240.00,487.45 240.50,487.45 241.00,487.45 241.50,487.45 242.00,487.45 242.50,487.45 243.00,487.45 243.50,487.45 244.00,487.45 244.50,487.45 245.00,487.45 245.50,487.45 246.00,487.45 246.50,487.45 247.00,487.45 247.50,487.45 248.00,487.45 248.50,487.45 249.00,487.45 249.50,487.45 250.00,487.45 250.50,487.45 251.00,487.45 251.50,487.45 252.00,487.45 252.50,487.45 253.00,487.45 253.50,487.45 254.00,487.45 254.50,487.45 255.00,487.45 255.50,487.45 256.00,487.45 256.50,487.45 257.00,487.45 257.50,487.45 258.00,487.45 258.50,487.45 259.00,487.45 259.50,487.45 260.00,487.45 260.50,487.45 261.00,487.45 261.50,487.45 262.00,487.45 262.50,487.45 263.00,487.45 263.50,487.45 264.00,487.45 264.50,487.45 265.00,487.45 265.50,487.45 266.00,487.45 266.50,487.45 267.00,487.45 267.50,487.45 268.00,487.45 268.50,487.45 269.00,487.45 269.50,487.45 270.00,487.45 270.50,487.45 271.00,487.45 271.50,487.45 272.00,487.45 272.50,487.45 273.00,487.45 273.50,487.45 274.00,487.45 274.50,487.45 275.00,487.45 275.50,487.45 276.00,487.45 276.50,487.45 277.00,487.45 277.50,487.45 278.00,487.45 278.50,487.45 279.00,487.45 279.50,487.45 280.00,487.45 280.50,487.45 281.00,487.45 281.50,487.45 282.00,487.45 282.50,487.45 283.00,487.45 283.50,487.45 284.00,487.45 284.50,487.45 285.00,487.45 285.50,487.45 286.00,487.45 286.50,487.45 287.00,487.45 287.50,487.45 288.00,487.45 288.50,487.45 289.00,487.45 289.50,487.45 290.00,487.45 290.50,487.45 291.00,487.45 291.50,487.45 292.00,487.45 292.50,487.45 293.00,487.45 293.50,487.45 294.00,487.45 294.50,487.45 295.00,487.45 295.50,487.45 296.00,487.45 296.50,487.45 297.00,487.45 297.50,487.45 298.00,487.45 298.50,487.45 299.00,487.45 299.50,487.45 300.00,487.45 300.50,487.45 301.00,487.45 301.50,487.45 302.00,487.45 302.50,487.45 303.00,487.45 303.50,487.45 304.00,487.45 304.50,487.45 305.00,487.45 305.50,487.45 306.00,487.45 306.50,487.45 307.00,487.45 307.50,487.45 308.00,487.45 308.50,487.45 309.00,487.45 309.50,487.45 310.00,487.45 310.50,487.45 311.00,487.45 311.50,487.45 312.00,487.45 312.50,487.45 313.00,487.45 313.50,487.45 314.00,487.45 314.50,487.45 315.00,487.45 315.50,487.45 316.00,487.45 316.50,487.45 317.00,487.45 317.50,487.45 318.00,487.45 318.50,487.45 319.00,487.45 319.50,487.45 320.00,487.45 320.50,487.45 321.00,487.45 321.50,487.45 322.00,487.45 322.50,487.45 323.00,487.45 323.50,487.45 324.00,487.45 324.50,487.45 325.00,487.45 325.50,487.45 326.00,487.45 326.50,487.45 327.00,487.45 327.50,487.45 328.00,487.45 328.50,487.45 329.00,487.45 329.50,487.45 329.60,487.45" fill="none" stroke="#e8652a" stroke-width="2.3" stroke-linejoin="round"/>
<text x="17.7" y="341.60" text-anchor="end" class="sa" font-size="11.2" fill="#bdbdbd">20</text>
<text x="17.7" y="384.50" text-anchor="end" class="sa" font-size="11.2" fill="#bdbdbd">10</text>
<text x="17.7" y="427.40" text-anchor="end" class="sa" font-size="11.2" fill="#bdbdbd">0</text>
<text x="17.7" y="470.80" text-anchor="end" class="sa" font-size="11.2" fill="#bdbdbd">-10</text>
<text x="20.00" y="518.6" text-anchor="middle" class="sa" font-size="11.2" fill="#bdbdbd">0</text>
<text x="71.60" y="518.6" text-anchor="middle" class="sa" font-size="11.2" fill="#bdbdbd">5</text>
<text x="123.20" y="518.6" text-anchor="middle" class="sa" font-size="11.2" fill="#bdbdbd">10</text>
<text x="174.80" y="518.6" text-anchor="middle" class="sa" font-size="11.2" fill="#bdbdbd">15</text>
<text x="226.40" y="518.6" text-anchor="middle" class="sa" font-size="11.2" fill="#bdbdbd">20</text>
<text x="278.00" y="518.6" text-anchor="middle" class="sa" font-size="11.2" fill="#bdbdbd">25</text>
<text x="329.60" y="518.6" text-anchor="middle" class="sa" font-size="11.2" fill="#bdbdbd">30</text>
<rect x="40.5" y="336.5" width="58.5" height="47" rx="0.8" fill="#000" stroke="#a8a8a8" stroke-width="1"/>
<line x1="44.4" y1="345.4" x2="86.3" y2="345.4" stroke="#e8e817" stroke-width="2"/>
<text x="89.5" y="349.80" class="sa" font-size="11" fill="#cfcfcf">x</text>
<line x1="44.4" y1="360.5" x2="86.3" y2="360.5" stroke="#1798ea" stroke-width="2"/>
<text x="89.5" y="364.90" class="sa" font-size="11" fill="#cfcfcf">y</text>
<line x1="44.4" y1="375.1" x2="86.3" y2="375.1" stroke="#e8652a" stroke-width="2"/>
<text x="89.5" y="379.50" class="sa" font-size="11" fill="#cfcfcf">z</text>
<rect x="329" y="324.2" width="11" height="11.3" fill="#9a9a9a"/>
<rect x="330.2" y="328" width="9.8" height="6.4" fill="#000"/>
<path d="M332.6,329.6 h-1.3 v3.4 h1.3 M338.2,329.6 h1.1 v3.4 h-1.1" fill="none" stroke="#e8e8e8" stroke-width="1"/>
<path d="M335.5,328.6 l-2.4,2.8 h1.8 v3.2 h1.2 v-3.2 h1.8 z" fill="#f0f0f0"/>
<rect x="349.5" y="324.5" width="335.5" height="200" fill="#292929"/>
<rect x="349.5" y="324" width="335.5" height="1" fill="#6a6a6a"/>
<rect x="349.5" y="324.5" width="1" height="200" fill="#444"/>
<rect x="369" y="334" width="310" height="171.3" fill="#000"/>
<line x1="420.67" y1="334" x2="420.67" y2="505.3" stroke="#333333" stroke-width="1"/>
<line x1="472.33" y1="334" x2="472.33" y2="505.3" stroke="#333333" stroke-width="1"/>
<line x1="524.00" y1="334" x2="524.00" y2="505.3" stroke="#333333" stroke-width="1"/>
<line x1="575.67" y1="334" x2="575.67" y2="505.3" stroke="#333333" stroke-width="1"/>
<line x1="627.33" y1="334" x2="627.33" y2="505.3" stroke="#333333" stroke-width="1"/>
<line x1="369" y1="356.60" x2="679" y2="356.60" stroke="#333333" stroke-width="1"/>
<line x1="369" y1="400.20" x2="679" y2="400.20" stroke="#333333" stroke-width="1"/>
<line x1="369" y1="443.80" x2="679" y2="443.80" stroke="#333333" stroke-width="1"/>
<line x1="369" y1="487.40" x2="679" y2="487.40" stroke="#333333" stroke-width="1"/>
<rect x="369" y="334" width="310" height="171.3" fill="none" stroke="#8a8a8a" stroke-width="1"/>
<line x1="369.00" y1="505.3" x2="369.00" y2="502.3" stroke="#8a8a8a"/>
<line x1="369.00" y1="334" x2="369.00" y2="337" stroke="#8a8a8a"/>
<line x1="420.67" y1="505.3" x2="420.67" y2="502.3" stroke="#8a8a8a"/>
<line x1="420.67" y1="334" x2="420.67" y2="337" stroke="#8a8a8a"/>
<line x1="472.33" y1="505.3" x2="472.33" y2="502.3" stroke="#8a8a8a"/>
<line x1="472.33" y1="334" x2="472.33" y2="337" stroke="#8a8a8a"/>
<line x1="524.00" y1="505.3" x2="524.00" y2="502.3" stroke="#8a8a8a"/>
<line x1="524.00" y1="334" x2="524.00" y2="337" stroke="#8a8a8a"/>
<line x1="575.67" y1="505.3" x2="575.67" y2="502.3" stroke="#8a8a8a"/>
<line x1="575.67" y1="334" x2="575.67" y2="337" stroke="#8a8a8a"/>
<line x1="627.33" y1="505.3" x2="627.33" y2="502.3" stroke="#8a8a8a"/>
<line x1="627.33" y1="334" x2="627.33" y2="337" stroke="#8a8a8a"/>
<line x1="679.00" y1="505.3" x2="679.00" y2="502.3" stroke="#8a8a8a"/>
<line x1="679.00" y1="334" x2="679.00" y2="337" stroke="#8a8a8a"/>
<line x1="369" y1="356.60" x2="372" y2="356.60" stroke="#8a8a8a"/>
<line x1="679" y1="356.60" x2="676" y2="356.60" stroke="#8a8a8a"/>
<line x1="369" y1="400.20" x2="372" y2="400.20" stroke="#8a8a8a"/>
<line x1="679" y1="400.20" x2="676" y2="400.20" stroke="#8a8a8a"/>
<line x1="369" y1="443.80" x2="372" y2="443.80" stroke="#8a8a8a"/>
<line x1="679" y1="443.80" x2="676" y2="443.80" stroke="#8a8a8a"/>
<line x1="369" y1="487.40" x2="372" y2="487.40" stroke="#8a8a8a"/>
<line x1="679" y1="487.40" x2="676" y2="487.40" stroke="#8a8a8a"/>
<polyline points="369.00,400.20 369.50,400.20 370.00,400.20 370.50,400.20 371.00,400.20 371.50,400.20 372.00,400.20 372.50,400.20 373.00,400.20 373.50,400.20 374.00,400.20 374.50,400.20 375.00,400.20 375.50,400.20 376.00,400.20 376.50,400.20 377.00,400.20 377.50,400.20 378.00,400.20 378.50,400.20 379.00,400.20 379.50,400.20 380.00,400.20 380.50,400.20 381.00,400.20 381.50,400.20 382.00,400.20 382.50,400.20 383.00,400.20 383.50,400.20 384.00,400.20 384.50,400.20 385.00,400.20 385.50,400.20 386.00,400.20 386.50,400.20 387.00,400.20 387.50,400.20 388.00,400.20 388.50,400.20 389.00,400.20 389.50,400.20 390.00,400.20 390.50,400.20 391.00,400.20 391.50,400.20 392.00,400.20 392.50,400.20 393.00,400.20 393.50,400.20 394.00,400.20 394.50,400.20 395.00,400.20 395.50,400.20 396.00,400.20 396.50,400.20 397.00,400.20 397.50,400.20 398.00,400.20 398.50,400.20 399.00,400.20 399.50,400.20 400.00,400.20 400.50,400.20 401.00,400.20 401.50,400.20 402.00,400.20 402.50,400.20 403.00,400.20 403.50,400.20 404.00,400.20 404.50,400.20 405.00,400.20 405.50,400.20 406.00,400.20 406.50,400.20 407.00,400.20 407.50,400.20 408.00,400.20 408.50,400.20 409.00,400.20 409.50,400.20 410.00,400.20 410.50,400.20 411.00,400.20 411.50,400.20 412.00,400.20 412.50,400.20 413.00,400.20 413.50,400.20 414.00,400.20 414.50,400.20 415.00,400.20 415.50,400.20 416.00,400.20 416.50,400.20 417.00,400.20 417.50,400.20 418.00,400.20 418.50,400.20 419.00,400.20 419.50,400.20 420.00,400.20 420.50,400.20 421.00,400.20 421.50,400.20 422.00,400.20 422.50,400.20 423.00,400.20 423.50,400.20 424.00,400.20 424.50,400.20 425.00,400.20 425.50,400.20 426.00,400.20 426.50,400.20 427.00,400.20 427.50,400.20 428.00,400.20 428.50,400.20 429.00,400.20 429.50,400.20 430.00,400.20 430.50,400.20 431.00,400.20 431.50,400.20 432.00,400.20 432.50,400.20 433.00,400.20 433.50,400.20 434.00,400.20 434.50,400.20 435.00,400.20 435.50,400.20 436.00,400.20 436.50,400.20 437.00,400.20 437.50,400.20 438.00,400.20 438.50,400.20 439.00,400.20 439.50,400.20 440.00,400.20 440.50,400.20 441.00,400.20 441.50,400.20 442.00,400.20 442.50,400.20 443.00,400.20 443.50,400.20 444.00,400.20 444.50,400.20 445.00,400.20 445.50,400.20 446.00,400.20 446.50,400.20 447.00,400.20 447.50,400.20 448.00,400.20 448.50,400.20 449.00,400.20 449.50,400.20 450.00,400.20 450.50,400.20 451.00,400.20 451.50,400.20 452.00,400.20 452.50,400.20 453.00,400.20 453.50,400.20 454.00,400.20 454.50,400.20 455.00,400.20 455.50,400.20 456.00,400.20 456.50,400.20 457.00,400.20 457.50,400.20 458.00,400.20 458.50,400.20 459.00,400.20 459.50,400.20 460.00,400.20 460.50,400.20 461.00,400.20 461.50,400.20 462.00,400.20 462.50,400.20 463.00,400.20 463.50,400.20 464.00,400.20 464.50,400.20 465.00,400.20 465.50,400.20 466.00,400.20 466.50,400.20 467.00,400.20 467.50,400.20 468.00,400.20 468.50,400.20 469.00,400.20 469.50,400.20 470.00,400.20 470.50,400.20 471.00,400.20 471.50,400.20 472.00,400.20 472.15,400.20 472.50,393.27 473.00,370.42 473.50,353.01 473.60,352.20 474.00,351.65 474.30,351.50 474.50,351.56 475.00,352.17 475.50,353.12 476.00,354.08 476.40,354.60 476.50,354.69 477.00,355.12 477.50,355.52 478.00,355.88 478.50,356.16 479.00,356.34 479.40,356.40 479.50,356.40 480.00,356.43 480.50,356.45 481.00,356.46 481.50,356.48 482.00,356.50 482.50,356.51 483.00,356.52 483.50,356.53 484.00,356.55 484.50,356.56 485.00,356.56 485.50,356.57 486.00,356.58 486.50,356.58 487.00,356.59 487.50,356.59 488.00,356.59 488.50,356.60 489.00,356.60 489.50,356.60 490.00,356.60 490.50,356.60 491.00,356.60 491.50,356.60 492.00,356.60 492.50,356.60 493.00,356.60 493.50,356.60 494.00,356.60 494.50,356.60 495.00,356.60 495.50,356.60 496.00,356.60 496.50,356.60 497.00,356.60 497.50,356.60 498.00,356.60 498.50,356.60 499.00,356.60 499.50,356.60 500.00,356.60 500.50,356.60 501.00,356.60 501.50,356.60 502.00,356.60 502.50,356.60 503.00,356.60 503.50,356.60 503.70,356.60 504.00,356.61 504.50,356.70 505.00,356.89 505.50,357.22 505.90,357.60 506.00,358.21 506.50,370.40 507.00,394.91 507.10,399.90 507.50,420.35 508.00,447.80 508.50,471.42 509.00,484.88 509.10,485.80 509.50,487.50 509.60,487.60 510.00,487.60 510.50,487.58 511.00,487.55 511.50,487.52 512.00,487.49 512.50,487.45 513.00,487.43 513.50,487.41 514.00,487.40 514.50,487.40 515.00,487.40 515.50,487.40 516.00,487.40 516.50,487.40 517.00,487.40 517.50,487.40 518.00,487.40 518.50,487.40 519.00,487.40 519.50,487.40 520.00,484.76 520.30,482.00 520.50,479.91 521.00,472.83 521.50,465.00 522.00,457.56 522.50,449.68 522.60,448.00 523.00,440.25 523.30,435.00 523.50,432.27 524.00,427.00 524.50,423.97 525.00,421.70 525.50,419.58 526.00,417.57 526.50,415.73 527.00,414.09 527.50,412.70 527.80,412.00 528.00,411.58 528.50,410.57 529.00,409.64 529.50,408.79 530.00,408.02 530.50,407.33 531.00,406.71 531.50,406.17 532.00,405.70 532.50,405.28 533.00,404.89 533.50,404.53 534.00,404.19 534.50,403.87 535.00,403.58 535.50,403.31 536.00,403.07 536.50,402.86 537.00,402.67 537.50,402.50 538.00,402.35 538.50,402.21 539.00,402.07 539.50,401.94 540.00,401.82 540.50,401.71 541.00,401.61 541.50,401.51 542.00,401.42 542.50,401.34 543.00,401.26 543.50,401.20 544.00,401.14 544.40,401.10 544.50,401.09 545.00,401.05 545.50,401.00 546.00,400.96 546.50,400.93 547.00,400.89 547.50,400.86 548.00,400.83 548.50,400.80 549.00,400.78 549.50,400.75 550.00,400.72 550.50,400.70 551.00,400.68 551.50,400.66 552.00,400.63 552.50,400.61 552.80,400.60 553.00,400.59 553.50,400.57 554.00,400.55 554.50,400.52 555.00,400.50 555.50,400.48 556.00,400.46 556.50,400.43 557.00,400.41 557.50,400.39 558.00,400.37 558.50,400.35 559.00,400.33 559.50,400.31 560.00,400.29 560.50,400.28 561.00,400.26 561.50,400.25 562.00,400.24 562.50,400.23 563.00,400.22 563.50,400.21 564.00,400.20 564.50,400.20 565.00,400.20 565.50,400.20 566.00,400.20 566.50,400.20 567.00,400.20 567.50,400.20 568.00,400.20 568.50,400.20 569.00,400.20 569.50,400.20 570.00,400.20 570.50,400.20 571.00,400.20 571.50,400.20 572.00,400.20 572.50,400.20 573.00,400.20 573.50,400.20 574.00,400.20 574.50,400.20 575.00,400.20 575.50,400.20 576.00,400.20 576.50,400.20 577.00,400.20 577.50,400.20 578.00,400.20 578.50,400.20 579.00,400.20 579.50,400.20 580.00,400.20 580.50,400.20 581.00,400.20 581.50,400.20 582.00,400.20 582.50,400.20 583.00,400.20 583.50,400.20 584.00,400.20 584.50,400.20 585.00,400.20 585.50,400.20 586.00,400.20 586.50,400.20 587.00,400.20 587.50,400.20 588.00,400.20 588.50,400.20 589.00,400.20 589.50,400.20 590.00,400.20 590.50,400.20 591.00,400.20 591.50,400.20 592.00,400.20 592.50,400.20 593.00,400.20 593.50,400.20 594.00,400.20 594.50,400.20 595.00,400.20 595.50,400.20 596.00,400.20 596.50,400.20 597.00,400.20 597.50,400.20 598.00,400.20 598.50,400.20 599.00,400.20 599.50,400.20 600.00,400.20 600.50,400.20 601.00,400.20 601.50,400.20 602.00,400.20 602.50,400.20 603.00,400.20 603.50,400.20 604.00,400.20 604.50,400.20 605.00,400.20 605.50,400.20 606.00,400.20 606.50,400.20 607.00,400.20 607.50,400.20 608.00,400.20 608.50,400.20 609.00,400.20 609.50,400.20 610.00,400.20 610.50,400.20 611.00,400.20 611.50,400.20 612.00,400.20 612.50,400.20 613.00,400.20 613.50,400.20 614.00,400.20 614.50,400.20 615.00,400.20 615.50,400.20 616.00,400.20 616.50,400.20 617.00,400.20 617.50,400.20 618.00,400.20 618.50,400.20 619.00,400.20 619.50,400.20 620.00,400.20 620.50,400.20 621.00,400.20 621.50,400.20 622.00,400.20 622.50,400.20 623.00,400.20 623.50,400.20 624.00,400.20 624.50,400.20 625.00,400.20 625.50,400.20 626.00,400.20 626.50,400.20 627.00,400.20 627.50,400.20 628.00,400.20 628.50,400.20 629.00,400.20 629.50,400.20 630.00,400.20 630.50,400.20 631.00,400.20 631.50,400.20 632.00,400.20 632.50,400.20 633.00,400.20 633.50,400.20 634.00,400.20 634.50,400.20 635.00,400.20 635.50,400.20 636.00,400.20 636.50,400.20 637.00,400.20 637.50,400.20 638.00,400.20 638.50,400.20 639.00,400.20 639.50,400.20 640.00,400.20 640.50,400.20 641.00,400.20 641.50,400.20 642.00,400.20 642.50,400.20 643.00,400.20 643.50,400.20 644.00,400.20 644.50,400.20 645.00,400.20 645.50,400.20 646.00,400.20 646.50,400.20 647.00,400.20 647.50,400.20 648.00,400.20 648.50,400.20 649.00,400.20 649.50,400.20 650.00,400.20 650.50,400.20 651.00,400.20 651.50,400.20 652.00,400.20 652.50,400.20 653.00,400.20 653.50,400.20 654.00,400.20 654.50,400.20 655.00,400.20 655.50,400.20 656.00,400.20 656.50,400.20 657.00,400.20 657.50,400.20 658.00,400.20 658.50,400.20 659.00,400.20 659.50,400.20 660.00,400.20 660.50,400.20 661.00,400.20 661.50,400.20 662.00,400.20 662.50,400.20 663.00,400.20 663.50,400.20 664.00,400.20 664.50,400.20 665.00,400.20 665.50,400.20 666.00,400.20 666.50,400.20 667.00,400.20 667.50,400.20 668.00,400.20 668.50,400.20 669.00,400.20 669.50,400.20 670.00,400.20 670.50,400.20 671.00,400.20 671.50,400.20 672.00,400.20 672.50,400.20 673.00,400.20 673.50,400.20 674.00,400.20 674.50,400.20 675.00,400.20 675.50,400.20 676.00,400.20 676.50,400.20 677.00,400.20 677.50,400.20 678.00,400.20 678.50,400.20 679.00,400.20" fill="none" stroke="#e8e817" stroke-width="2.3" stroke-linejoin="round"/>
<polyline points="369.00,400.20 369.50,400.20 370.00,400.20 370.50,400.20 371.00,400.20 371.50,400.20 372.00,400.20 372.50,400.20 373.00,400.20 373.50,400.20 374.00,400.20 374.50,400.20 375.00,400.20 375.50,400.20 376.00,400.20 376.50,400.20 377.00,400.20 377.50,400.20 378.00,400.20 378.50,400.20 379.00,400.20 379.50,400.20 380.00,400.20 380.50,400.20 381.00,400.20 381.50,400.20 382.00,400.20 382.50,400.20 383.00,400.20 383.50,400.20 384.00,400.20 384.50,400.20 385.00,400.20 385.50,400.20 386.00,400.20 386.50,400.20 387.00,400.20 387.50,400.20 388.00,400.20 388.50,400.20 389.00,400.20 389.50,400.20 390.00,400.20 390.50,400.20 391.00,400.20 391.50,400.20 392.00,400.20 392.50,400.20 393.00,400.20 393.50,400.20 394.00,400.20 394.50,400.20 395.00,400.20 395.50,400.20 396.00,400.20 396.50,400.20 397.00,400.20 397.50,400.20 398.00,400.20 398.50,400.20 399.00,400.20 399.50,400.20 400.00,400.20 400.50,400.20 401.00,400.20 401.50,400.20 402.00,400.20 402.50,400.20 403.00,400.20 403.50,400.20 404.00,400.20 404.50,400.20 405.00,400.20 405.50,400.20 406.00,400.20 406.50,400.20 407.00,400.20 407.50,400.20 408.00,400.20 408.50,400.20 409.00,400.20 409.50,400.20 410.00,400.20 410.50,400.20 411.00,400.20 411.50,400.20 412.00,400.20 412.50,400.20 413.00,400.20 413.50,400.20 414.00,400.20 414.50,400.20 415.00,400.20 415.50,400.20 416.00,400.20 416.50,400.20 417.00,400.20 417.50,400.20 418.00,400.20 418.50,400.20 419.00,400.20 419.50,400.20 420.00,400.20 420.50,400.20 421.00,400.20 421.50,400.20 422.00,400.20 422.50,400.20 423.00,400.20 423.50,400.20 424.00,400.20 424.50,400.20 425.00,400.20 425.50,400.20 426.00,400.20 426.50,400.20 427.00,400.20 427.50,400.20 428.00,400.20 428.50,400.20 429.00,400.20 429.50,400.20 430.00,400.20 430.50,400.20 431.00,400.20 431.50,400.20 432.00,400.20 432.50,400.20 433.00,400.20 433.50,400.20 434.00,400.20 434.50,400.20 435.00,400.20 435.50,400.20 436.00,400.20 436.50,400.20 437.00,400.20 437.50,400.20 438.00,400.20 438.50,400.20 439.00,400.20 439.50,400.20 440.00,400.20 440.50,400.20 441.00,400.20 441.50,400.20 442.00,400.20 442.50,400.20 443.00,400.20 443.50,400.20 444.00,400.20 444.50,400.20 445.00,400.20 445.50,400.20 446.00,400.20 446.50,400.20 447.00,400.20 447.50,400.20 448.00,400.20 448.50,400.20 449.00,400.20 449.50,400.20 450.00,400.20 450.50,400.20 451.00,400.20 451.50,400.20 452.00,400.20 452.50,400.20 453.00,400.20 453.50,400.20 454.00,400.20 454.50,400.20 455.00,400.20 455.50,400.20 456.00,400.20 456.50,400.20 457.00,400.20 457.50,400.20 458.00,400.20 458.50,400.20 459.00,400.20 459.50,400.20 460.00,400.20 460.50,400.20 461.00,400.20 461.50,400.20 462.00,400.20 462.50,400.20 463.00,400.20 463.50,400.20 464.00,400.20 464.50,400.20 465.00,400.20 465.50,400.20 466.00,400.20 466.50,400.20 467.00,400.20 467.50,400.20 468.00,400.20 468.50,400.20 469.00,400.20 469.50,400.20 470.00,400.20 470.50,400.20 471.00,400.20 471.50,400.20 472.00,400.20 472.50,400.20 473.00,400.20 473.50,400.20 474.00,400.20 474.50,400.20 475.00,400.20 475.50,400.20 476.00,400.20 476.50,400.20 477.00,400.20 477.50,400.20 478.00,400.20 478.50,400.20 479.00,400.20 479.50,400.20 480.00,400.20 480.50,400.20 481.00,400.20 481.50,400.20 482.00,400.20 482.50,400.20 483.00,400.20 483.50,400.20 484.00,400.20 484.50,400.20 485.00,400.20 485.50,400.20 486.00,400.20 486.50,400.20 487.00,400.20 487.50,400.20 488.00,400.20 488.50,400.20 489.00,400.20 489.50,400.20 490.00,400.20 490.50,400.20 491.00,400.20 491.50,400.20 492.00,400.20 492.50,400.20 493.00,400.20 493.50,400.20 494.00,400.20 494.50,400.20 495.00,400.20 495.50,400.20 496.00,400.20 496.50,400.20 497.00,400.20 497.50,400.20 498.00,400.20 498.50,400.20 499.00,400.20 499.50,400.20 500.00,400.20 500.50,400.20 501.00,400.20 501.50,400.20 502.00,400.20 502.50,400.20 503.00,400.20 503.50,400.20 504.00,400.20 504.50,400.20 505.00,400.20 505.50,400.20 506.00,400.20 506.50,400.20 507.00,400.20 507.50,400.20 508.00,400.20 508.50,400.20 509.00,400.20 509.50,400.20 510.00,400.20 510.50,400.20 511.00,400.20 511.50,400.20 512.00,400.20 512.50,400.20 513.00,400.20 513.50,400.20 514.00,400.20 514.50,400.20 515.00,400.20 515.50,400.20 516.00,400.20 516.50,400.20 517.00,400.20 517.50,400.20 518.00,400.20 518.50,400.20 519.00,400.20 519.50,400.20 520.00,400.20 520.50,400.20 521.00,400.20 521.50,400.20 522.00,400.20 522.50,400.20 523.00,400.20 523.50,400.20 523.90,400.20 524.00,400.97 524.50,418.86 524.80,430.00 525.00,435.39 525.50,447.03 525.70,448.75 526.00,449.22 526.30,449.40 526.50,449.21 527.00,447.65 527.50,445.83 527.80,445.30 528.00,445.19 528.50,444.96 529.00,444.76 529.50,444.60 530.00,444.47 530.50,444.37 531.00,444.29 531.50,444.24 532.00,444.20 532.50,444.17 533.00,444.14 533.50,444.12 534.00,444.09 534.50,444.07 535.00,444.05 535.50,444.03 536.00,444.01 536.50,444.00 537.00,443.98 537.50,443.97 538.00,443.96 538.50,443.95 539.00,443.94 539.50,443.93 540.00,443.92 540.50,443.92 541.00,443.91 541.50,443.90 541.70,443.90 542.00,443.90 542.50,443.89 543.00,443.89 543.50,443.88 544.00,443.88 544.50,443.88 545.00,443.88 545.50,443.87 546.00,443.87 546.50,443.87 547.00,443.87 547.50,443.87 548.00,443.87 548.50,443.86 549.00,443.86 549.50,443.86 550.00,443.86 550.50,443.86 551.00,443.86 551.50,443.86 552.00,443.85 552.50,443.85 553.00,443.85 553.50,443.84 554.00,443.84 554.50,443.83 555.00,443.83 555.50,443.82 556.00,443.81 556.50,443.81 556.90,443.80 557.00,443.79 557.50,443.63 557.90,443.30 558.00,441.58 558.50,406.92 558.60,400.00 559.00,369.23 559.40,350.80 559.50,350.85 560.00,352.26 560.50,354.00 561.00,355.31 561.50,356.49 562.00,357.00 562.50,357.00 563.00,357.00 563.50,357.00 564.00,357.00 564.50,357.00 565.00,357.00 565.50,357.00 566.00,357.00 566.50,357.00 567.00,357.00 567.50,357.00 568.00,357.00 568.50,357.00 569.00,357.00 569.50,357.00 570.00,357.00 570.50,357.00 571.00,357.00 571.50,357.00 572.00,357.00 572.50,357.00 573.00,357.00 573.50,357.00 574.00,357.00 574.50,357.00 575.00,357.00 575.50,357.00 576.00,357.00 576.50,357.00 577.00,357.00 577.50,357.00 578.00,357.00 578.50,357.00 579.00,357.00 579.50,357.00 580.00,357.00 580.50,357.00 581.00,357.00 581.50,357.00 582.00,357.00 582.50,357.00 583.00,357.00 583.50,357.00 584.00,357.00 584.50,357.00 585.00,357.00 585.50,357.00 586.00,357.00 586.50,357.00 587.00,357.00 587.50,357.00 588.00,357.00 588.50,357.00 589.00,357.00 589.50,357.00 590.00,357.00 590.50,357.00 591.00,357.00 591.50,357.00 592.00,357.00 592.50,357.00 593.00,357.00 593.50,357.00 594.00,357.00 594.50,357.00 595.00,357.00 595.50,357.00 596.00,357.00 596.50,357.00 597.00,357.00 597.50,357.00 598.00,357.00 598.50,357.00 599.00,357.00 599.50,357.00 600.00,357.00 600.50,357.00 601.00,357.00 601.50,357.00 602.00,357.00 602.50,357.00 603.00,357.00 603.50,357.00 604.00,357.00 604.50,357.00 605.00,357.00 605.50,357.00 605.80,357.00 606.00,357.08 606.50,357.90 607.00,359.51 607.30,360.80 607.50,362.94 608.00,375.98 608.50,393.06 608.75,400.40 609.00,407.29 609.50,422.27 610.00,434.86 610.40,440.00 610.50,440.49 611.00,442.47 611.50,443.30 612.00,443.39 612.50,443.45 613.00,443.49 613.50,443.50 614.00,443.47 614.50,443.40 615.00,443.28 615.50,443.13 615.60,443.10 616.00,442.65 616.50,441.34 617.00,439.44 617.50,437.19 618.00,434.84 618.50,432.66 618.75,431.70 619.00,430.79 619.50,428.88 620.00,426.92 620.50,424.95 621.00,423.01 621.50,421.18 622.00,419.49 622.50,418.01 622.90,417.00 623.00,416.77 623.50,415.65 624.00,414.58 624.50,413.56 625.00,412.59 625.50,411.67 626.00,410.80 626.50,409.99 627.00,409.24 627.50,408.56 628.00,407.93 628.50,407.37 629.00,406.88 629.20,406.70 629.50,406.44 630.00,406.03 630.50,405.63 631.00,405.24 631.50,404.87 632.00,404.52 632.50,404.19 633.00,403.87 633.50,403.57 634.00,403.30 634.50,403.04 635.00,402.81 635.50,402.60 636.00,402.41 636.50,402.25 637.00,402.11 637.50,402.00 638.00,401.90 638.50,401.81 639.00,401.73 639.50,401.65 640.00,401.57 640.50,401.50 641.00,401.43 641.50,401.37 642.00,401.31 642.50,401.25 643.00,401.20 643.50,401.15 644.00,401.10 644.50,401.06 645.00,401.01 645.50,400.97 646.00,400.93 646.50,400.90 647.00,400.86 647.50,400.83 648.00,400.80 648.50,400.77 649.00,400.74 649.50,400.71 650.00,400.68 650.50,400.65 651.00,400.62 651.50,400.60 652.00,400.57 652.50,400.54 653.00,400.52 653.50,400.50 654.00,400.47 654.50,400.45 655.00,400.43 655.50,400.41 656.00,400.39 656.50,400.38 657.00,400.36 657.50,400.35 658.00,400.33 658.50,400.32 659.00,400.31 659.50,400.31 660.00,400.30 660.50,400.30 661.00,400.29 661.50,400.29 662.00,400.28 662.50,400.28 663.00,400.27 663.50,400.27 664.00,400.26 664.50,400.26 665.00,400.26 665.50,400.25 666.00,400.25 666.50,400.24 667.00,400.24 667.50,400.24 668.00,400.24 668.50,400.23 669.00,400.23 669.50,400.23 670.00,400.22 670.50,400.22 671.00,400.22 671.50,400.22 672.00,400.21 672.50,400.21 673.00,400.21 673.50,400.21 674.00,400.21 674.50,400.21 675.00,400.20 675.50,400.20 676.00,400.20 676.50,400.20 677.00,400.20 677.50,400.20 678.00,400.20 678.50,400.20 679.00,400.20" fill="none" stroke="#1798ea" stroke-width="2.3" stroke-linejoin="round"/>
<polyline points="369.00,400.20 369.50,400.20 370.00,400.20 370.50,400.20 371.00,400.20 371.50,400.20 372.00,400.20 372.50,400.20 373.00,400.20 373.50,400.20 374.00,400.20 374.50,400.20 375.00,400.20 375.50,400.20 376.00,400.20 376.50,400.20 377.00,400.20 377.50,400.20 378.00,400.20 378.50,400.20 379.00,400.20 379.50,400.20 380.00,400.20 380.50,400.20 381.00,400.20 381.50,400.20 382.00,400.20 382.50,400.20 383.00,400.20 383.50,400.20 384.00,400.20 384.50,400.20 385.00,400.20 385.50,400.20 386.00,400.20 386.50,400.20 387.00,400.20 387.50,400.20 388.00,400.20 388.50,400.20 389.00,400.20 389.50,400.20 390.00,400.20 390.50,400.20 391.00,400.20 391.50,400.20 392.00,400.20 392.50,400.20 393.00,400.20 393.50,400.20 394.00,400.20 394.50,400.20 395.00,400.20 395.50,400.20 396.00,400.20 396.50,400.20 397.00,400.20 397.50,400.20 398.00,400.20 398.50,400.20 399.00,400.20 399.50,400.20 400.00,400.20 400.50,400.20 401.00,400.20 401.50,400.20 402.00,400.20 402.50,400.20 403.00,400.20 403.50,400.20 404.00,400.20 404.50,400.20 405.00,400.20 405.50,400.20 406.00,400.20 406.50,400.20 407.00,400.20 407.50,400.20 408.00,400.20 408.50,400.20 409.00,400.20 409.50,400.20 410.00,400.20 410.50,400.20 411.00,400.20 411.50,400.20 412.00,400.20 412.50,400.20 413.00,400.20 413.50,400.20 414.00,400.20 414.50,400.20 415.00,400.20 415.50,400.20 416.00,400.20 416.50,400.20 417.00,400.20 417.50,400.20 418.00,400.20 418.50,400.20 419.00,400.20 419.50,400.20 420.00,400.20 420.50,400.20 421.00,400.20 421.50,400.20 422.00,400.20 422.50,400.20 423.00,400.20 423.50,400.20 424.00,400.20 424.50,400.20 425.00,400.20 425.50,400.20 426.00,400.20 426.50,400.20 427.00,400.20 427.50,400.20 428.00,400.20 428.50,400.20 429.00,400.20 429.50,400.20 430.00,400.20 430.50,400.20 431.00,400.20 431.50,400.20 432.00,400.20 432.50,400.20 433.00,400.20 433.50,400.20 434.00,400.20 434.50,400.20 435.00,400.20 435.50,400.20 436.00,400.20 436.50,400.20 437.00,400.20 437.50,400.20 438.00,400.20 438.50,400.20 439.00,400.20 439.50,400.20 440.00,400.20 440.50,400.20 441.00,400.20 441.50,400.20 442.00,400.20 442.50,400.20 443.00,400.20 443.50,400.20 444.00,400.20 444.50,400.20 445.00,400.20 445.50,400.20 446.00,400.20 446.50,400.20 447.00,400.20 447.50,400.20 448.00,400.20 448.50,400.20 449.00,400.20 449.50,400.20 450.00,400.20 450.50,400.20 451.00,400.20 451.50,400.20 452.00,400.20 452.50,400.20 453.00,400.20 453.50,400.20 454.00,400.20 454.50,400.20 455.00,400.20 455.50,400.20 456.00,400.20 456.50,400.20 457.00,400.20 457.50,400.20 458.00,400.20 458.50,400.20 459.00,400.20 459.50,400.20 460.00,400.20 460.50,400.20 461.00,400.20 461.50,400.20 462.00,400.20 462.50,400.20 463.00,400.20 463.50,400.20 464.00,400.20 464.50,400.20 465.00,400.20 465.50,400.20 466.00,400.20 466.50,400.20 467.00,400.20 467.50,400.20 468.00,400.20 468.50,400.20 469.00,400.20 469.50,400.20 470.00,400.20 470.50,400.20 471.00,400.20 471.50,400.20 472.00,400.20 472.50,400.20 473.00,400.20 473.50,400.20 474.00,400.20 474.50,400.20 475.00,400.20 475.50,400.20 476.00,400.20 476.50,400.20 477.00,400.20 477.50,400.20 478.00,400.20 478.50,400.20 479.00,400.20 479.50,400.20 480.00,400.20 480.50,400.20 481.00,400.20 481.50,400.20 482.00,400.20 482.50,400.20 483.00,400.20 483.50,400.20 484.00,400.20 484.50,400.20 485.00,400.20 485.50,400.20 486.00,400.20 486.50,400.20 487.00,400.20 487.50,400.20 488.00,400.20 488.50,400.20 489.00,400.20 489.50,400.20 490.00,400.20 490.50,400.20 491.00,400.20 491.50,400.20 492.00,400.20 492.50,400.20 493.00,400.20 493.50,400.20 494.00,400.20 494.50,400.20 495.00,400.20 495.50,400.20 496.00,400.20 496.50,400.20 497.00,400.20 497.50,400.20 498.00,400.20 498.50,400.20 499.00,400.20 499.50,400.20 500.00,400.20 500.50,400.20 501.00,400.20 501.50,400.20 502.00,400.20 502.50,400.20 503.00,400.20 503.50,400.20 504.00,400.20 504.50,400.20 505.00,400.20 505.50,400.20 506.00,400.20 506.50,400.20 507.00,400.20 507.50,400.20 508.00,400.20 508.50,400.20 509.00,400.20 509.50,400.20 510.00,400.20 510.50,400.20 511.00,400.20 511.50,400.20 512.00,400.20 512.50,400.20 513.00,400.20 513.50,400.20 514.00,400.20 514.50,400.20 515.00,400.20 515.50,400.20 516.00,400.20 516.50,400.20 517.00,400.20 517.50,400.20 518.00,400.20 518.50,400.20 519.00,400.20 519.50,400.20 520.00,400.20 520.50,400.20 521.00,400.20 521.50,400.20 522.00,400.20 522.50,400.20 523.00,400.20 523.50,400.20 523.90,400.20 524.00,400.14 524.50,398.55 525.00,396.21 525.50,395.00 526.00,395.00 526.50,395.00 527.00,395.05 527.50,395.19 528.00,395.40 528.50,395.64 529.00,395.91 529.50,396.17 530.00,396.41 530.50,396.60 531.00,396.75 531.50,396.90 532.00,397.04 532.50,397.17 533.00,397.30 533.50,397.42 534.00,397.54 534.50,397.66 535.00,397.77 535.50,397.88 536.00,397.98 536.10,398.00 536.50,398.08 537.00,398.18 537.50,398.29 538.00,398.39 538.50,398.48 539.00,398.58 539.50,398.68 540.00,398.77 540.50,398.86 541.00,398.94 541.50,399.03 542.00,399.10 542.50,399.18 543.00,399.24 543.50,399.30 544.00,399.36 544.40,399.40 544.50,399.41 545.00,399.46 545.50,399.50 546.00,399.55 546.50,399.59 547.00,399.64 547.50,399.68 548.00,399.72 548.50,399.76 549.00,399.80 549.50,399.84 550.00,399.88 550.50,399.91 551.00,399.94 551.50,399.97 552.00,400.00 552.50,400.02 553.00,400.04 553.50,400.06 554.00,400.08 554.50,400.09 555.00,400.10 555.50,400.10 556.00,400.10 556.50,400.11 557.00,400.11 557.50,400.11 558.00,400.11 558.50,400.12 559.00,400.12 559.50,400.12 560.00,400.12 560.50,400.12 561.00,400.13 561.50,400.13 562.00,400.13 562.50,400.13 563.00,400.14 563.50,400.14 564.00,400.14 564.50,400.14 565.00,400.14 565.50,400.14 566.00,400.15 566.50,400.15 567.00,400.15 567.50,400.15 568.00,400.15 568.50,400.16 569.00,400.16 569.50,400.16 570.00,400.16 570.50,400.16 571.00,400.16 571.50,400.16 572.00,400.17 572.50,400.17 573.00,400.17 573.50,400.17 574.00,400.17 574.50,400.17 575.00,400.17 575.50,400.17 576.00,400.18 576.50,400.18 577.00,400.18 577.50,400.18 578.00,400.18 578.50,400.18 579.00,400.18 579.50,400.18 580.00,400.18 580.50,400.18 581.00,400.19 581.50,400.19 582.00,400.19 582.50,400.19 583.00,400.19 583.50,400.19 584.00,400.19 584.50,400.19 585.00,400.19 585.50,400.19 586.00,400.19 586.50,400.19 587.00,400.19 587.50,400.19 588.00,400.19 588.50,400.20 589.00,400.20 589.50,400.20 590.00,400.20 590.50,400.20 591.00,400.20 591.50,400.20 592.00,400.20 592.50,400.20 593.00,400.20 593.50,400.20 594.00,400.20 594.50,400.20 595.00,400.20 595.50,400.20 596.00,400.20 596.50,400.20 597.00,400.20 597.50,400.20 598.00,400.20 598.50,400.20 599.00,400.20 599.50,400.20 600.00,400.20 600.50,400.20 601.00,400.20 601.50,400.20 602.00,400.20 602.50,400.20 603.00,400.20 603.50,400.20 604.00,400.20 604.50,400.20 605.00,400.20 605.50,400.20 606.00,400.20 606.50,400.20 607.00,400.20 607.50,400.20 608.00,400.20 608.50,400.20 609.00,400.20 609.50,400.20 610.00,400.20 610.50,400.20 611.00,400.20 611.50,400.20 612.00,400.20 612.50,400.20 613.00,400.20 613.50,400.20 614.00,400.20 614.50,400.20 615.00,400.20 615.50,400.20 616.00,400.20 616.50,400.20 617.00,400.20 617.50,400.20 618.00,400.20 618.50,400.20 619.00,400.20 619.50,400.20 620.00,400.20 620.50,400.20 621.00,400.20 621.50,400.20 622.00,400.20 622.50,400.20 623.00,400.20 623.50,400.20 624.00,400.20 624.50,400.20 625.00,400.20 625.50,400.20 626.00,400.20 626.50,400.20 627.00,400.20 627.50,400.20 628.00,400.20 628.50,400.20 629.00,400.20 629.50,400.20 630.00,400.20 630.50,400.20 631.00,400.20 631.50,400.20 632.00,400.20 632.50,400.20 633.00,400.20 633.50,400.20 634.00,400.20 634.50,400.20 635.00,400.20 635.50,400.20 636.00,400.20 636.50,400.20 637.00,400.20 637.50,400.20 638.00,400.20 638.50,400.20 639.00,400.20 639.50,400.20 640.00,400.20 640.50,400.20 641.00,400.20 641.50,400.20 642.00,400.20 642.50,400.20 643.00,400.20 643.50,400.20 644.00,400.20 644.50,400.20 645.00,400.20 645.50,400.20 646.00,400.20 646.50,400.20 647.00,400.20 647.50,400.20 648.00,400.20 648.50,400.20 649.00,400.20 649.50,400.20 650.00,400.20 650.50,400.20 651.00,400.20 651.50,400.20 652.00,400.20 652.50,400.20 653.00,400.20 653.50,400.20 654.00,400.20 654.50,400.20 655.00,400.20 655.50,400.20 656.00,400.20 656.50,400.20 657.00,400.20 657.50,400.20 658.00,400.20 658.50,400.20 659.00,400.20 659.50,400.20 660.00,400.20 660.50,400.20 661.00,400.20 661.50,400.20 662.00,400.20 662.50,400.20 663.00,400.20 663.50,400.20 664.00,400.20 664.50,400.20 665.00,400.20 665.50,400.20 666.00,400.20 666.50,400.20 667.00,400.20 667.50,400.20 668.00,400.20 668.50,400.20 669.00,400.20 669.50,400.20 670.00,400.20 670.50,400.20 671.00,400.20 671.50,400.20 672.00,400.20 672.50,400.20 673.00,400.20 673.50,400.20 674.00,400.20 674.50,400.20 675.00,400.20 675.50,400.20 676.00,400.20 676.50,400.20 677.00,400.20 677.50,400.20 678.00,400.20 678.50,400.20 679.00,400.20" fill="none" stroke="#e8652a" stroke-width="2.3" stroke-linejoin="round"/>
<text x="366.4" y="361.20" text-anchor="end" class="sa" font-size="11.2" fill="#bababa">10</text>
<text x="366.4" y="404.80" text-anchor="end" class="sa" font-size="11.2" fill="#bababa">0</text>
<text x="366.4" y="448.40" text-anchor="end" class="sa" font-size="11.2" fill="#bababa">-10</text>
<text x="366.4" y="492.00" text-anchor="end" class="sa" font-size="11.2" fill="#bababa">-20</text>
<text x="369.00" y="519.5" text-anchor="middle" class="sa" font-size="11.2" fill="#bababa">0</text>
<text x="420.67" y="519.5" text-anchor="middle" class="sa" font-size="11.2" fill="#bababa">5</text>
<text x="472.33" y="519.5" text-anchor="middle" class="sa" font-size="11.2" fill="#bababa">10</text>
<text x="524.00" y="519.5" text-anchor="middle" class="sa" font-size="11.2" fill="#bababa">15</text>
<text x="575.67" y="519.5" text-anchor="middle" class="sa" font-size="11.2" fill="#bababa">20</text>
<text x="627.33" y="519.5" text-anchor="middle" class="sa" font-size="11.2" fill="#bababa">25</text>
<text x="679.00" y="519.5" text-anchor="middle" class="sa" font-size="11.2" fill="#bababa">30</text>
<rect x="364.3" y="331.3" width="76.4" height="47.6" rx="0.8" fill="#000" stroke="#a8a8a8" stroke-width="1"/>
<line x1="368.1" y1="340.1" x2="409.9" y2="340.1" stroke="#e8e817" stroke-width="2"/>
<text x="413.3" y="344.30" class="sa" font-size="11" fill="#cfcfcf">roll</text>
<line x1="368.1" y1="355.5" x2="409.9" y2="355.5" stroke="#1798ea" stroke-width="2"/>
<text x="413.3" y="359.70" class="sa" font-size="11" fill="#cfcfcf">pitch</text>
<line x1="368.1" y1="369.9" x2="409.9" y2="369.9" stroke="#e8652a" stroke-width="2"/>
<text x="413.3" y="374.10" class="sa" font-size="11" fill="#cfcfcf">yaw</text>
<rect x="678" y="324.4" width="7" height="11" fill="#9e9e9e"/>
<rect x="679.5" y="328.4" width="5.5" height="5.4" fill="#000"/>
<path d="M681.8,329.6 h-1.2 v3.2 h1.6" fill="none" stroke="#e8e8e8" stroke-width="1"/>
<path d="M685,328.8 v4.6 l-2.6,-1.6 z" fill="#f0f0f0"/>
<text transform="translate(157.5,78) rotate(90)" x="0" y="0" class="se" font-size="15" fill="#111">Flight trajectory</text>
<text x="343.3" y="283.4" class="se" font-size="15" fill="#111">Time (Second)</text>
<text x="287.7" y="314" class="se" font-size="17.4" fill="#ff0000">(a)</text>
<text x="317.6" y="314" class="se" font-size="17.4" fill="#ff0000">Flight trajectory</text>
<text x="132" y="548.9" class="se" font-size="15" fill="#111">Time (Second)</text>
<text x="482" y="548.9" class="se" font-size="15" fill="#111">Time (Second)</text>
<text x="257.4" y="572" class="se" font-size="17.4" fill="#ff0000">(b)</text>
<text x="287.2" y="572" class="se" font-size="17.4" fill="#ff0000">Flight position and angle</text>
</svg>
</body></html>
